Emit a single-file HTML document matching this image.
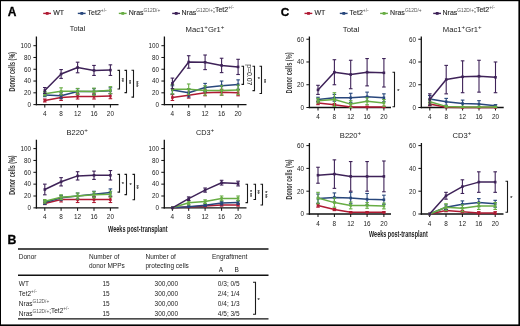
<!DOCTYPE html>
<html><head><meta charset="utf-8"><style>
html,body{margin:0;padding:0;background:#fff;}
body{width:520px;height:326px;overflow:hidden;}
svg{display:block;font-family:"Liberation Sans", sans-serif;will-change:transform;}
</style></head><body>
<svg width="520" height="326" viewBox="0 0 520 326">
<rect x="0" y="0" width="520" height="326" fill="#fff"/>
<line x1="36.4" y1="36.5" x2="36.4" y2="105.25" stroke="#111" stroke-width="1.3"/>
<line x1="35.75" y1="104.6" x2="118.5" y2="104.6" stroke="#111" stroke-width="1.3"/>
<line x1="33.4" y1="104.6" x2="36.4" y2="104.6" stroke="#111" stroke-width="1"/>
<text x="31.0" y="106.89999999999999" font-size="6.3" text-anchor="end" font-weight="normal" fill="#222" >0</text>
<line x1="33.4" y1="92.82" x2="36.4" y2="92.82" stroke="#111" stroke-width="1"/>
<text x="31.0" y="95.11999999999999" font-size="6.3" text-anchor="end" font-weight="normal" fill="#222" >20</text>
<line x1="33.4" y1="81.03999999999999" x2="36.4" y2="81.03999999999999" stroke="#111" stroke-width="1"/>
<text x="31.0" y="83.33999999999999" font-size="6.3" text-anchor="end" font-weight="normal" fill="#222" >40</text>
<line x1="33.4" y1="69.25999999999999" x2="36.4" y2="69.25999999999999" stroke="#111" stroke-width="1"/>
<text x="31.0" y="71.55999999999999" font-size="6.3" text-anchor="end" font-weight="normal" fill="#222" >60</text>
<line x1="33.4" y1="57.48" x2="36.4" y2="57.48" stroke="#111" stroke-width="1"/>
<text x="31.0" y="59.779999999999994" font-size="6.3" text-anchor="end" font-weight="normal" fill="#222" >80</text>
<line x1="33.4" y1="45.699999999999996" x2="36.4" y2="45.699999999999996" stroke="#111" stroke-width="1"/>
<text x="31.0" y="47.99999999999999" font-size="6.3" text-anchor="end" font-weight="normal" fill="#222" >100</text>
<line x1="44.8" y1="104.6" x2="44.8" y2="107.6" stroke="#111" stroke-width="1"/>
<text x="44.8" y="116.19999999999999" font-size="6.4" text-anchor="middle" font-weight="normal" fill="#222" >4</text>
<line x1="61.1" y1="104.6" x2="61.1" y2="107.6" stroke="#111" stroke-width="1"/>
<text x="61.1" y="116.19999999999999" font-size="6.4" text-anchor="middle" font-weight="normal" fill="#222" >8</text>
<line x1="77.6" y1="104.6" x2="77.6" y2="107.6" stroke="#111" stroke-width="1"/>
<text x="77.6" y="116.19999999999999" font-size="6.4" text-anchor="middle" font-weight="normal" fill="#222" >12</text>
<line x1="94.0" y1="104.6" x2="94.0" y2="107.6" stroke="#111" stroke-width="1"/>
<text x="94.0" y="116.19999999999999" font-size="6.4" text-anchor="middle" font-weight="normal" fill="#222" >16</text>
<line x1="110.4" y1="104.6" x2="110.4" y2="107.6" stroke="#111" stroke-width="1"/>
<text x="110.4" y="116.19999999999999" font-size="6.4" text-anchor="middle" font-weight="normal" fill="#222" >20</text>
<text x="77.5" y="31.4" font-size="7.3" text-anchor="middle" font-weight="normal" fill="#222" >Total</text>
<text transform="translate(15.4,71.7) rotate(-90)" font-size="8.4" font-weight="bold" text-anchor="middle" fill="#383838" textLength="39.5" lengthAdjust="spacingAndGlyphs">Donor cells (%)</text>
<line x1="44.8" y1="99.0045" x2="44.8" y2="101.9495" stroke="#b01a33" stroke-width="1.1"/>
<line x1="43.0" y1="99.0045" x2="46.599999999999994" y2="99.0045" stroke="#b01a33" stroke-width="1.1"/>
<line x1="43.0" y1="101.9495" x2="46.599999999999994" y2="101.9495" stroke="#b01a33" stroke-width="1.1"/>
<line x1="61.1" y1="94.58699999999999" x2="61.1" y2="100.47699999999999" stroke="#b01a33" stroke-width="1.1"/>
<line x1="59.300000000000004" y1="94.58699999999999" x2="62.9" y2="94.58699999999999" stroke="#b01a33" stroke-width="1.1"/>
<line x1="59.300000000000004" y1="100.47699999999999" x2="62.9" y2="100.47699999999999" stroke="#b01a33" stroke-width="1.1"/>
<line x1="77.6" y1="93.70349999999999" x2="77.6" y2="99.0045" stroke="#b01a33" stroke-width="1.1"/>
<line x1="75.8" y1="93.70349999999999" x2="79.39999999999999" y2="93.70349999999999" stroke="#b01a33" stroke-width="1.1"/>
<line x1="75.8" y1="99.0045" x2="79.39999999999999" y2="99.0045" stroke="#b01a33" stroke-width="1.1"/>
<line x1="94.0" y1="93.70349999999999" x2="94.0" y2="99.0045" stroke="#b01a33" stroke-width="1.1"/>
<line x1="92.2" y1="93.70349999999999" x2="95.8" y2="93.70349999999999" stroke="#b01a33" stroke-width="1.1"/>
<line x1="92.2" y1="99.0045" x2="95.8" y2="99.0045" stroke="#b01a33" stroke-width="1.1"/>
<line x1="110.4" y1="93.40899999999999" x2="110.4" y2="98.71" stroke="#b01a33" stroke-width="1.1"/>
<line x1="108.60000000000001" y1="93.40899999999999" x2="112.2" y2="93.40899999999999" stroke="#b01a33" stroke-width="1.1"/>
<line x1="108.60000000000001" y1="98.71" x2="112.2" y2="98.71" stroke="#b01a33" stroke-width="1.1"/>
<polyline points="44.8,100.5 61.1,97.5 77.6,96.4 94.0,96.4 110.4,96.1" fill="none" stroke="#b01a33" stroke-width="1.5" stroke-linejoin="round"/>
<rect x="43.5" y="99.2" width="2.6" height="2.6" fill="#b01a33"/>
<rect x="59.8" y="96.2" width="2.6" height="2.6" fill="#b01a33"/>
<rect x="76.3" y="95.1" width="2.6" height="2.6" fill="#b01a33"/>
<rect x="92.7" y="95.1" width="2.6" height="2.6" fill="#b01a33"/>
<rect x="109.1" y="94.8" width="2.6" height="2.6" fill="#b01a33"/>
<line x1="44.8" y1="93.11449999999999" x2="44.8" y2="96.6485" stroke="#28477c" stroke-width="1.1"/>
<line x1="43.0" y1="93.11449999999999" x2="46.599999999999994" y2="93.11449999999999" stroke="#28477c" stroke-width="1.1"/>
<line x1="43.0" y1="96.6485" x2="46.599999999999994" y2="96.6485" stroke="#28477c" stroke-width="1.1"/>
<line x1="61.1" y1="92.82" x2="61.1" y2="98.71" stroke="#28477c" stroke-width="1.1"/>
<line x1="59.300000000000004" y1="92.82" x2="62.9" y2="92.82" stroke="#28477c" stroke-width="1.1"/>
<line x1="59.300000000000004" y1="98.71" x2="62.9" y2="98.71" stroke="#28477c" stroke-width="1.1"/>
<line x1="77.6" y1="88.697" x2="77.6" y2="94.58699999999999" stroke="#28477c" stroke-width="1.1"/>
<line x1="75.8" y1="88.697" x2="79.39999999999999" y2="88.697" stroke="#28477c" stroke-width="1.1"/>
<line x1="75.8" y1="94.58699999999999" x2="79.39999999999999" y2="94.58699999999999" stroke="#28477c" stroke-width="1.1"/>
<line x1="94.0" y1="88.697" x2="94.0" y2="94.58699999999999" stroke="#28477c" stroke-width="1.1"/>
<line x1="92.2" y1="88.697" x2="95.8" y2="88.697" stroke="#28477c" stroke-width="1.1"/>
<line x1="92.2" y1="94.58699999999999" x2="95.8" y2="94.58699999999999" stroke="#28477c" stroke-width="1.1"/>
<line x1="110.4" y1="87.81349999999999" x2="110.4" y2="93.70349999999999" stroke="#28477c" stroke-width="1.1"/>
<line x1="108.60000000000001" y1="87.81349999999999" x2="112.2" y2="87.81349999999999" stroke="#28477c" stroke-width="1.1"/>
<line x1="108.60000000000001" y1="93.70349999999999" x2="112.2" y2="93.70349999999999" stroke="#28477c" stroke-width="1.1"/>
<polyline points="44.8,94.9 61.1,95.8 77.6,91.6 94.0,91.6 110.4,90.8" fill="none" stroke="#28477c" stroke-width="1.5" stroke-linejoin="round"/>
<rect x="43.5" y="93.6" width="2.6" height="2.6" fill="#28477c"/>
<rect x="59.8" y="94.5" width="2.6" height="2.6" fill="#28477c"/>
<rect x="76.3" y="90.3" width="2.6" height="2.6" fill="#28477c"/>
<rect x="92.7" y="90.3" width="2.6" height="2.6" fill="#28477c"/>
<rect x="109.1" y="89.5" width="2.6" height="2.6" fill="#28477c"/>
<line x1="44.8" y1="91.642" x2="44.8" y2="95.765" stroke="#68ad44" stroke-width="1.1"/>
<line x1="43.0" y1="91.642" x2="46.599999999999994" y2="91.642" stroke="#68ad44" stroke-width="1.1"/>
<line x1="43.0" y1="95.765" x2="46.599999999999994" y2="95.765" stroke="#68ad44" stroke-width="1.1"/>
<line x1="61.1" y1="87.81349999999999" x2="61.1" y2="94.88149999999999" stroke="#68ad44" stroke-width="1.1"/>
<line x1="59.300000000000004" y1="87.81349999999999" x2="62.9" y2="87.81349999999999" stroke="#68ad44" stroke-width="1.1"/>
<line x1="59.300000000000004" y1="94.88149999999999" x2="62.9" y2="94.88149999999999" stroke="#68ad44" stroke-width="1.1"/>
<line x1="77.6" y1="88.4025" x2="77.6" y2="94.29249999999999" stroke="#68ad44" stroke-width="1.1"/>
<line x1="75.8" y1="88.4025" x2="79.39999999999999" y2="88.4025" stroke="#68ad44" stroke-width="1.1"/>
<line x1="75.8" y1="94.29249999999999" x2="79.39999999999999" y2="94.29249999999999" stroke="#68ad44" stroke-width="1.1"/>
<line x1="94.0" y1="88.108" x2="94.0" y2="95.17599999999999" stroke="#68ad44" stroke-width="1.1"/>
<line x1="92.2" y1="88.108" x2="95.8" y2="88.108" stroke="#68ad44" stroke-width="1.1"/>
<line x1="92.2" y1="95.17599999999999" x2="95.8" y2="95.17599999999999" stroke="#68ad44" stroke-width="1.1"/>
<line x1="110.4" y1="86.6355" x2="110.4" y2="93.70349999999999" stroke="#68ad44" stroke-width="1.1"/>
<line x1="108.60000000000001" y1="86.6355" x2="112.2" y2="86.6355" stroke="#68ad44" stroke-width="1.1"/>
<line x1="108.60000000000001" y1="93.70349999999999" x2="112.2" y2="93.70349999999999" stroke="#68ad44" stroke-width="1.1"/>
<polyline points="44.8,93.7 61.1,91.3 77.6,91.3 94.0,91.6 110.4,90.2" fill="none" stroke="#68ad44" stroke-width="1.5" stroke-linejoin="round"/>
<rect x="43.5" y="92.4" width="2.6" height="2.6" fill="#68ad44"/>
<rect x="59.8" y="90.0" width="2.6" height="2.6" fill="#68ad44"/>
<rect x="76.3" y="90.0" width="2.6" height="2.6" fill="#68ad44"/>
<rect x="92.7" y="90.3" width="2.6" height="2.6" fill="#68ad44"/>
<rect x="109.1" y="88.9" width="2.6" height="2.6" fill="#68ad44"/>
<line x1="44.8" y1="87.51899999999999" x2="44.8" y2="93.40899999999999" stroke="#3e2258" stroke-width="1.1"/>
<line x1="43.0" y1="87.51899999999999" x2="46.599999999999994" y2="87.51899999999999" stroke="#3e2258" stroke-width="1.1"/>
<line x1="43.0" y1="93.40899999999999" x2="46.599999999999994" y2="93.40899999999999" stroke="#3e2258" stroke-width="1.1"/>
<line x1="61.1" y1="69.55449999999999" x2="61.1" y2="78.3895" stroke="#3e2258" stroke-width="1.1"/>
<line x1="59.300000000000004" y1="69.55449999999999" x2="62.9" y2="69.55449999999999" stroke="#3e2258" stroke-width="1.1"/>
<line x1="59.300000000000004" y1="78.3895" x2="62.9" y2="78.3895" stroke="#3e2258" stroke-width="1.1"/>
<line x1="77.6" y1="62.19199999999999" x2="77.6" y2="72.794" stroke="#3e2258" stroke-width="1.1"/>
<line x1="75.8" y1="62.19199999999999" x2="79.39999999999999" y2="62.19199999999999" stroke="#3e2258" stroke-width="1.1"/>
<line x1="75.8" y1="72.794" x2="79.39999999999999" y2="72.794" stroke="#3e2258" stroke-width="1.1"/>
<line x1="94.0" y1="65.4315" x2="94.0" y2="75.44449999999999" stroke="#3e2258" stroke-width="1.1"/>
<line x1="92.2" y1="65.4315" x2="95.8" y2="65.4315" stroke="#3e2258" stroke-width="1.1"/>
<line x1="92.2" y1="75.44449999999999" x2="95.8" y2="75.44449999999999" stroke="#3e2258" stroke-width="1.1"/>
<line x1="110.4" y1="64.8425" x2="110.4" y2="75.44449999999999" stroke="#3e2258" stroke-width="1.1"/>
<line x1="108.60000000000001" y1="64.8425" x2="112.2" y2="64.8425" stroke="#3e2258" stroke-width="1.1"/>
<line x1="108.60000000000001" y1="75.44449999999999" x2="112.2" y2="75.44449999999999" stroke="#3e2258" stroke-width="1.1"/>
<polyline points="44.8,90.5 61.1,74.0 77.6,67.5 94.0,70.4 110.4,70.1" fill="none" stroke="#3e2258" stroke-width="1.5" stroke-linejoin="round"/>
<rect x="43.5" y="89.2" width="2.6" height="2.6" fill="#3e2258"/>
<rect x="59.8" y="72.7" width="2.6" height="2.6" fill="#3e2258"/>
<rect x="76.3" y="66.2" width="2.6" height="2.6" fill="#3e2258"/>
<rect x="92.7" y="69.1" width="2.6" height="2.6" fill="#3e2258"/>
<rect x="109.1" y="68.8" width="2.6" height="2.6" fill="#3e2258"/>
<polyline points="117.5,70.4 119.5,70.4 119.5,89.0 117.5,89.0" fill="none" stroke="#1a1a1a" stroke-width="1.1"/>
<text x="122.8" y="81.85" font-size="5.4" text-anchor="middle" fill="#1a1a1a" stroke="#1a1a1a" stroke-width="0.1">*</text>
<text x="122.8" y="84.15" font-size="5.4" text-anchor="middle" fill="#1a1a1a" stroke="#1a1a1a" stroke-width="0.1">*</text>
<polyline points="124.5,70.4 126.5,70.4 126.5,92.6 124.5,92.6" fill="none" stroke="#1a1a1a" stroke-width="1.1"/>
<text x="130.1" y="83.85" font-size="5.4" text-anchor="middle" fill="#1a1a1a" stroke="#1a1a1a" stroke-width="0.1">*</text>
<text x="130.1" y="86.15" font-size="5.4" text-anchor="middle" fill="#1a1a1a" stroke="#1a1a1a" stroke-width="0.1">*</text>
<polyline points="131.5,70.3 133.5,70.3 133.5,97.1 131.5,97.1" fill="none" stroke="#1a1a1a" stroke-width="1.1"/>
<text x="137.2" y="84.70" font-size="5.4" text-anchor="middle" fill="#1a1a1a" stroke="#1a1a1a" stroke-width="0.1">*</text>
<text x="137.2" y="87.00" font-size="5.4" text-anchor="middle" fill="#1a1a1a" stroke="#1a1a1a" stroke-width="0.1">*</text>
<text x="137.2" y="89.30" font-size="5.4" text-anchor="middle" fill="#1a1a1a" stroke="#1a1a1a" stroke-width="0.1">*</text>
<line x1="164.4" y1="36.5" x2="164.4" y2="105.25" stroke="#111" stroke-width="1.3"/>
<line x1="163.75" y1="104.6" x2="246.5" y2="104.6" stroke="#111" stroke-width="1.3"/>
<line x1="161.4" y1="104.6" x2="164.4" y2="104.6" stroke="#111" stroke-width="1"/>
<text x="159.0" y="106.89999999999999" font-size="6.3" text-anchor="end" font-weight="normal" fill="#222" >0</text>
<line x1="161.4" y1="92.82" x2="164.4" y2="92.82" stroke="#111" stroke-width="1"/>
<text x="159.0" y="95.11999999999999" font-size="6.3" text-anchor="end" font-weight="normal" fill="#222" >20</text>
<line x1="161.4" y1="81.03999999999999" x2="164.4" y2="81.03999999999999" stroke="#111" stroke-width="1"/>
<text x="159.0" y="83.33999999999999" font-size="6.3" text-anchor="end" font-weight="normal" fill="#222" >40</text>
<line x1="161.4" y1="69.25999999999999" x2="164.4" y2="69.25999999999999" stroke="#111" stroke-width="1"/>
<text x="159.0" y="71.55999999999999" font-size="6.3" text-anchor="end" font-weight="normal" fill="#222" >60</text>
<line x1="161.4" y1="57.48" x2="164.4" y2="57.48" stroke="#111" stroke-width="1"/>
<text x="159.0" y="59.779999999999994" font-size="6.3" text-anchor="end" font-weight="normal" fill="#222" >80</text>
<line x1="161.4" y1="45.699999999999996" x2="164.4" y2="45.699999999999996" stroke="#111" stroke-width="1"/>
<text x="159.0" y="47.99999999999999" font-size="6.3" text-anchor="end" font-weight="normal" fill="#222" >100</text>
<line x1="172.4" y1="104.6" x2="172.4" y2="107.6" stroke="#111" stroke-width="1"/>
<text x="172.4" y="116.19999999999999" font-size="6.4" text-anchor="middle" font-weight="normal" fill="#222" >4</text>
<line x1="188.7" y1="104.6" x2="188.7" y2="107.6" stroke="#111" stroke-width="1"/>
<text x="188.7" y="116.19999999999999" font-size="6.4" text-anchor="middle" font-weight="normal" fill="#222" >8</text>
<line x1="205.1" y1="104.6" x2="205.1" y2="107.6" stroke="#111" stroke-width="1"/>
<text x="205.1" y="116.19999999999999" font-size="6.4" text-anchor="middle" font-weight="normal" fill="#222" >12</text>
<line x1="221.6" y1="104.6" x2="221.6" y2="107.6" stroke="#111" stroke-width="1"/>
<text x="221.6" y="116.19999999999999" font-size="6.4" text-anchor="middle" font-weight="normal" fill="#222" >16</text>
<line x1="238.1" y1="104.6" x2="238.1" y2="107.6" stroke="#111" stroke-width="1"/>
<text x="238.1" y="116.19999999999999" font-size="6.4" text-anchor="middle" font-weight="normal" fill="#222" >20</text>
<text x="205.0" y="31.5" font-size="7.7" text-anchor="middle" font-weight="normal" fill="#222" >Mac1<tspan font-size="6.2" dy="-2.7">+</tspan><tspan dy="2.7">Gr1</tspan><tspan font-size="6.2" dy="-2.7">+</tspan></text>
<line x1="172.4" y1="94.58699999999999" x2="172.4" y2="100.47699999999999" stroke="#b01a33" stroke-width="1.1"/>
<line x1="170.6" y1="94.58699999999999" x2="174.20000000000002" y2="94.58699999999999" stroke="#b01a33" stroke-width="1.1"/>
<line x1="170.6" y1="100.47699999999999" x2="174.20000000000002" y2="100.47699999999999" stroke="#b01a33" stroke-width="1.1"/>
<line x1="188.7" y1="92.231" x2="188.7" y2="98.121" stroke="#b01a33" stroke-width="1.1"/>
<line x1="186.89999999999998" y1="92.231" x2="190.5" y2="92.231" stroke="#b01a33" stroke-width="1.1"/>
<line x1="186.89999999999998" y1="98.121" x2="190.5" y2="98.121" stroke="#b01a33" stroke-width="1.1"/>
<line x1="205.1" y1="89.875" x2="205.1" y2="95.765" stroke="#b01a33" stroke-width="1.1"/>
<line x1="203.29999999999998" y1="89.875" x2="206.9" y2="89.875" stroke="#b01a33" stroke-width="1.1"/>
<line x1="203.29999999999998" y1="95.765" x2="206.9" y2="95.765" stroke="#b01a33" stroke-width="1.1"/>
<line x1="221.6" y1="89.286" x2="221.6" y2="95.17599999999999" stroke="#b01a33" stroke-width="1.1"/>
<line x1="219.79999999999998" y1="89.286" x2="223.4" y2="89.286" stroke="#b01a33" stroke-width="1.1"/>
<line x1="219.79999999999998" y1="95.17599999999999" x2="223.4" y2="95.17599999999999" stroke="#b01a33" stroke-width="1.1"/>
<line x1="238.1" y1="89.875" x2="238.1" y2="95.765" stroke="#b01a33" stroke-width="1.1"/>
<line x1="236.29999999999998" y1="89.875" x2="239.9" y2="89.875" stroke="#b01a33" stroke-width="1.1"/>
<line x1="236.29999999999998" y1="95.765" x2="239.9" y2="95.765" stroke="#b01a33" stroke-width="1.1"/>
<polyline points="172.4,97.5 188.7,95.2 205.1,92.8 221.6,92.2 238.1,92.8" fill="none" stroke="#b01a33" stroke-width="1.5" stroke-linejoin="round"/>
<rect x="171.1" y="96.2" width="2.6" height="2.6" fill="#b01a33"/>
<rect x="187.4" y="93.9" width="2.6" height="2.6" fill="#b01a33"/>
<rect x="203.8" y="91.5" width="2.6" height="2.6" fill="#b01a33"/>
<rect x="220.3" y="90.9" width="2.6" height="2.6" fill="#b01a33"/>
<rect x="236.8" y="91.5" width="2.6" height="2.6" fill="#b01a33"/>
<line x1="172.4" y1="85.752" x2="172.4" y2="93.99799999999999" stroke="#28477c" stroke-width="1.1"/>
<line x1="170.6" y1="85.752" x2="174.20000000000002" y2="85.752" stroke="#28477c" stroke-width="1.1"/>
<line x1="170.6" y1="93.99799999999999" x2="174.20000000000002" y2="93.99799999999999" stroke="#28477c" stroke-width="1.1"/>
<line x1="188.7" y1="88.697" x2="188.7" y2="96.943" stroke="#28477c" stroke-width="1.1"/>
<line x1="186.89999999999998" y1="88.697" x2="190.5" y2="88.697" stroke="#28477c" stroke-width="1.1"/>
<line x1="186.89999999999998" y1="96.943" x2="190.5" y2="96.943" stroke="#28477c" stroke-width="1.1"/>
<line x1="205.1" y1="83.39599999999999" x2="205.1" y2="91.642" stroke="#28477c" stroke-width="1.1"/>
<line x1="203.29999999999998" y1="83.39599999999999" x2="206.9" y2="83.39599999999999" stroke="#28477c" stroke-width="1.1"/>
<line x1="203.29999999999998" y1="91.642" x2="206.9" y2="91.642" stroke="#28477c" stroke-width="1.1"/>
<line x1="221.6" y1="81.03999999999999" x2="221.6" y2="90.464" stroke="#28477c" stroke-width="1.1"/>
<line x1="219.79999999999998" y1="81.03999999999999" x2="223.4" y2="81.03999999999999" stroke="#28477c" stroke-width="1.1"/>
<line x1="219.79999999999998" y1="90.464" x2="223.4" y2="90.464" stroke="#28477c" stroke-width="1.1"/>
<line x1="238.1" y1="79.862" x2="238.1" y2="89.286" stroke="#28477c" stroke-width="1.1"/>
<line x1="236.29999999999998" y1="79.862" x2="239.9" y2="79.862" stroke="#28477c" stroke-width="1.1"/>
<line x1="236.29999999999998" y1="89.286" x2="239.9" y2="89.286" stroke="#28477c" stroke-width="1.1"/>
<polyline points="172.4,89.9 188.7,92.8 205.1,87.5 221.6,85.8 238.1,84.6" fill="none" stroke="#28477c" stroke-width="1.5" stroke-linejoin="round"/>
<rect x="171.1" y="88.6" width="2.6" height="2.6" fill="#28477c"/>
<rect x="187.4" y="91.5" width="2.6" height="2.6" fill="#28477c"/>
<rect x="203.8" y="86.2" width="2.6" height="2.6" fill="#28477c"/>
<rect x="220.3" y="84.5" width="2.6" height="2.6" fill="#28477c"/>
<rect x="236.8" y="83.3" width="2.6" height="2.6" fill="#28477c"/>
<line x1="172.4" y1="84.574" x2="172.4" y2="93.99799999999999" stroke="#68ad44" stroke-width="1.1"/>
<line x1="170.6" y1="84.574" x2="174.20000000000002" y2="84.574" stroke="#68ad44" stroke-width="1.1"/>
<line x1="170.6" y1="93.99799999999999" x2="174.20000000000002" y2="93.99799999999999" stroke="#68ad44" stroke-width="1.1"/>
<line x1="188.7" y1="83.985" x2="188.7" y2="94.58699999999999" stroke="#68ad44" stroke-width="1.1"/>
<line x1="186.89999999999998" y1="83.985" x2="190.5" y2="83.985" stroke="#68ad44" stroke-width="1.1"/>
<line x1="186.89999999999998" y1="94.58699999999999" x2="190.5" y2="94.58699999999999" stroke="#68ad44" stroke-width="1.1"/>
<line x1="205.1" y1="85.752" x2="205.1" y2="95.17599999999999" stroke="#68ad44" stroke-width="1.1"/>
<line x1="203.29999999999998" y1="85.752" x2="206.9" y2="85.752" stroke="#68ad44" stroke-width="1.1"/>
<line x1="203.29999999999998" y1="95.17599999999999" x2="206.9" y2="95.17599999999999" stroke="#68ad44" stroke-width="1.1"/>
<line x1="221.6" y1="85.752" x2="221.6" y2="95.17599999999999" stroke="#68ad44" stroke-width="1.1"/>
<line x1="219.79999999999998" y1="85.752" x2="223.4" y2="85.752" stroke="#68ad44" stroke-width="1.1"/>
<line x1="219.79999999999998" y1="95.17599999999999" x2="223.4" y2="95.17599999999999" stroke="#68ad44" stroke-width="1.1"/>
<line x1="238.1" y1="85.163" x2="238.1" y2="94.58699999999999" stroke="#68ad44" stroke-width="1.1"/>
<line x1="236.29999999999998" y1="85.163" x2="239.9" y2="85.163" stroke="#68ad44" stroke-width="1.1"/>
<line x1="236.29999999999998" y1="94.58699999999999" x2="239.9" y2="94.58699999999999" stroke="#68ad44" stroke-width="1.1"/>
<polyline points="172.4,89.3 188.7,89.3 205.1,90.5 221.6,90.5 238.1,89.9" fill="none" stroke="#68ad44" stroke-width="1.5" stroke-linejoin="round"/>
<rect x="171.1" y="88.0" width="2.6" height="2.6" fill="#68ad44"/>
<rect x="187.4" y="88.0" width="2.6" height="2.6" fill="#68ad44"/>
<rect x="203.8" y="89.2" width="2.6" height="2.6" fill="#68ad44"/>
<rect x="220.3" y="89.2" width="2.6" height="2.6" fill="#68ad44"/>
<rect x="236.8" y="88.6" width="2.6" height="2.6" fill="#68ad44"/>
<line x1="172.4" y1="78.095" x2="172.4" y2="88.697" stroke="#3e2258" stroke-width="1.1"/>
<line x1="170.6" y1="78.095" x2="174.20000000000002" y2="78.095" stroke="#3e2258" stroke-width="1.1"/>
<line x1="170.6" y1="88.697" x2="174.20000000000002" y2="88.697" stroke="#3e2258" stroke-width="1.1"/>
<line x1="188.7" y1="55.712999999999994" x2="188.7" y2="68.1998" stroke="#3e2258" stroke-width="1.1"/>
<line x1="186.89999999999998" y1="55.712999999999994" x2="190.5" y2="55.712999999999994" stroke="#3e2258" stroke-width="1.1"/>
<line x1="186.89999999999998" y1="68.1998" x2="190.5" y2="68.1998" stroke="#3e2258" stroke-width="1.1"/>
<line x1="205.1" y1="55.00619999999999" x2="205.1" y2="69.6134" stroke="#3e2258" stroke-width="1.1"/>
<line x1="203.29999999999998" y1="55.00619999999999" x2="206.9" y2="55.00619999999999" stroke="#3e2258" stroke-width="1.1"/>
<line x1="203.29999999999998" y1="69.6134" x2="206.9" y2="69.6134" stroke="#3e2258" stroke-width="1.1"/>
<line x1="221.6" y1="58.24569999999999" x2="221.6" y2="72.6173" stroke="#3e2258" stroke-width="1.1"/>
<line x1="219.79999999999998" y1="58.24569999999999" x2="223.4" y2="58.24569999999999" stroke="#3e2258" stroke-width="1.1"/>
<line x1="219.79999999999998" y1="72.6173" x2="223.4" y2="72.6173" stroke="#3e2258" stroke-width="1.1"/>
<line x1="238.1" y1="59.305899999999994" x2="238.1" y2="74.5021" stroke="#3e2258" stroke-width="1.1"/>
<line x1="236.29999999999998" y1="59.305899999999994" x2="239.9" y2="59.305899999999994" stroke="#3e2258" stroke-width="1.1"/>
<line x1="236.29999999999998" y1="74.5021" x2="239.9" y2="74.5021" stroke="#3e2258" stroke-width="1.1"/>
<polyline points="172.4,83.4 188.7,62.0 205.1,62.3 221.6,65.4 238.1,66.9" fill="none" stroke="#3e2258" stroke-width="1.5" stroke-linejoin="round"/>
<rect x="171.1" y="82.1" width="2.6" height="2.6" fill="#3e2258"/>
<rect x="187.4" y="60.7" width="2.6" height="2.6" fill="#3e2258"/>
<rect x="203.8" y="61.0" width="2.6" height="2.6" fill="#3e2258"/>
<rect x="220.3" y="64.1" width="2.6" height="2.6" fill="#3e2258"/>
<rect x="236.8" y="65.6" width="2.6" height="2.6" fill="#3e2258"/>
<polyline points="241.5,66.2 243.5,66.2 243.5,84.4 241.5,84.4" fill="none" stroke="#1a1a1a" stroke-width="1.1"/>
<text transform="translate(246.6,74.8) rotate(90)" font-size="6.9" text-anchor="middle" fill="#222">p=0.07</text>
<polyline points="252.5,66.2 254.5,66.2 254.5,90.6 252.5,90.6" fill="none" stroke="#1a1a1a" stroke-width="1.1"/>
<text x="258.7" y="81.20" font-size="5.4" text-anchor="middle" fill="#1a1a1a" stroke="#1a1a1a" stroke-width="0.1">*</text>
<polyline points="259.5,66.2 261.5,66.2 261.5,93.5 259.5,93.5" fill="none" stroke="#1a1a1a" stroke-width="1.1"/>
<text x="265.0" y="83.15" font-size="5.4" text-anchor="middle" fill="#1a1a1a" stroke="#1a1a1a" stroke-width="0.1">*</text>
<text x="265.0" y="85.45" font-size="5.4" text-anchor="middle" fill="#1a1a1a" stroke="#1a1a1a" stroke-width="0.1">*</text>
<line x1="36.4" y1="139.7" x2="36.4" y2="208.5" stroke="#111" stroke-width="1.3"/>
<line x1="35.75" y1="207.85" x2="118.5" y2="207.85" stroke="#111" stroke-width="1.3"/>
<line x1="33.4" y1="207.85" x2="36.4" y2="207.85" stroke="#111" stroke-width="1"/>
<text x="31.0" y="210.15" font-size="6.3" text-anchor="end" font-weight="normal" fill="#222" >0</text>
<line x1="33.4" y1="196.0" x2="36.4" y2="196.0" stroke="#111" stroke-width="1"/>
<text x="31.0" y="198.3" font-size="6.3" text-anchor="end" font-weight="normal" fill="#222" >20</text>
<line x1="33.4" y1="184.14999999999998" x2="36.4" y2="184.14999999999998" stroke="#111" stroke-width="1"/>
<text x="31.0" y="186.45" font-size="6.3" text-anchor="end" font-weight="normal" fill="#222" >40</text>
<line x1="33.4" y1="172.29999999999998" x2="36.4" y2="172.29999999999998" stroke="#111" stroke-width="1"/>
<text x="31.0" y="174.6" font-size="6.3" text-anchor="end" font-weight="normal" fill="#222" >60</text>
<line x1="33.4" y1="160.45" x2="36.4" y2="160.45" stroke="#111" stroke-width="1"/>
<text x="31.0" y="162.75" font-size="6.3" text-anchor="end" font-weight="normal" fill="#222" >80</text>
<line x1="33.4" y1="148.6" x2="36.4" y2="148.6" stroke="#111" stroke-width="1"/>
<text x="31.0" y="150.9" font-size="6.3" text-anchor="end" font-weight="normal" fill="#222" >100</text>
<line x1="44.8" y1="207.85" x2="44.8" y2="210.85" stroke="#111" stroke-width="1"/>
<text x="44.8" y="219.45" font-size="6.4" text-anchor="middle" font-weight="normal" fill="#222" >4</text>
<line x1="61.1" y1="207.85" x2="61.1" y2="210.85" stroke="#111" stroke-width="1"/>
<text x="61.1" y="219.45" font-size="6.4" text-anchor="middle" font-weight="normal" fill="#222" >8</text>
<line x1="77.6" y1="207.85" x2="77.6" y2="210.85" stroke="#111" stroke-width="1"/>
<text x="77.6" y="219.45" font-size="6.4" text-anchor="middle" font-weight="normal" fill="#222" >12</text>
<line x1="94.0" y1="207.85" x2="94.0" y2="210.85" stroke="#111" stroke-width="1"/>
<text x="94.0" y="219.45" font-size="6.4" text-anchor="middle" font-weight="normal" fill="#222" >16</text>
<line x1="110.4" y1="207.85" x2="110.4" y2="210.85" stroke="#111" stroke-width="1"/>
<text x="110.4" y="219.45" font-size="6.4" text-anchor="middle" font-weight="normal" fill="#222" >20</text>
<text x="77.2" y="134.8" font-size="7.5" text-anchor="middle" font-weight="normal" fill="#222" >B220<tspan font-size="6.2" dy="-2.7">+</tspan></text>
<text transform="translate(15.4,175.1) rotate(-90)" font-size="8.4" font-weight="bold" text-anchor="middle" fill="#383838" textLength="39.5" lengthAdjust="spacingAndGlyphs">Donor cells (%)</text>
<line x1="44.8" y1="202.22125" x2="44.8" y2="204.59125" stroke="#b01a33" stroke-width="1.1"/>
<line x1="43.0" y1="202.22125" x2="46.599999999999994" y2="202.22125" stroke="#b01a33" stroke-width="1.1"/>
<line x1="43.0" y1="204.59125" x2="46.599999999999994" y2="204.59125" stroke="#b01a33" stroke-width="1.1"/>
<line x1="61.1" y1="197.185" x2="61.1" y2="201.92499999999998" stroke="#b01a33" stroke-width="1.1"/>
<line x1="59.300000000000004" y1="197.185" x2="62.9" y2="197.185" stroke="#b01a33" stroke-width="1.1"/>
<line x1="59.300000000000004" y1="201.92499999999998" x2="62.9" y2="201.92499999999998" stroke="#b01a33" stroke-width="1.1"/>
<line x1="77.6" y1="196.5925" x2="77.6" y2="202.51749999999998" stroke="#b01a33" stroke-width="1.1"/>
<line x1="75.8" y1="196.5925" x2="79.39999999999999" y2="196.5925" stroke="#b01a33" stroke-width="1.1"/>
<line x1="75.8" y1="202.51749999999998" x2="79.39999999999999" y2="202.51749999999998" stroke="#b01a33" stroke-width="1.1"/>
<line x1="94.0" y1="196.5925" x2="94.0" y2="202.51749999999998" stroke="#b01a33" stroke-width="1.1"/>
<line x1="92.2" y1="196.5925" x2="95.8" y2="196.5925" stroke="#b01a33" stroke-width="1.1"/>
<line x1="92.2" y1="202.51749999999998" x2="95.8" y2="202.51749999999998" stroke="#b01a33" stroke-width="1.1"/>
<line x1="110.4" y1="196.5925" x2="110.4" y2="202.51749999999998" stroke="#b01a33" stroke-width="1.1"/>
<line x1="108.60000000000001" y1="196.5925" x2="112.2" y2="196.5925" stroke="#b01a33" stroke-width="1.1"/>
<line x1="108.60000000000001" y1="202.51749999999998" x2="112.2" y2="202.51749999999998" stroke="#b01a33" stroke-width="1.1"/>
<polyline points="44.8,203.4 61.1,199.6 77.6,199.6 94.0,199.6 110.4,199.6" fill="none" stroke="#b01a33" stroke-width="1.5" stroke-linejoin="round"/>
<rect x="43.5" y="202.1" width="2.6" height="2.6" fill="#b01a33"/>
<rect x="59.8" y="198.3" width="2.6" height="2.6" fill="#b01a33"/>
<rect x="76.3" y="198.3" width="2.6" height="2.6" fill="#b01a33"/>
<rect x="92.7" y="198.3" width="2.6" height="2.6" fill="#b01a33"/>
<rect x="109.1" y="198.3" width="2.6" height="2.6" fill="#b01a33"/>
<line x1="44.8" y1="200.73999999999998" x2="44.8" y2="204.295" stroke="#28477c" stroke-width="1.1"/>
<line x1="43.0" y1="200.73999999999998" x2="46.599999999999994" y2="200.73999999999998" stroke="#28477c" stroke-width="1.1"/>
<line x1="43.0" y1="204.295" x2="46.599999999999994" y2="204.295" stroke="#28477c" stroke-width="1.1"/>
<line x1="61.1" y1="195.4075" x2="61.1" y2="200.14749999999998" stroke="#28477c" stroke-width="1.1"/>
<line x1="59.300000000000004" y1="195.4075" x2="62.9" y2="195.4075" stroke="#28477c" stroke-width="1.1"/>
<line x1="59.300000000000004" y1="200.14749999999998" x2="62.9" y2="200.14749999999998" stroke="#28477c" stroke-width="1.1"/>
<line x1="77.6" y1="193.0375" x2="77.6" y2="198.9625" stroke="#28477c" stroke-width="1.1"/>
<line x1="75.8" y1="193.0375" x2="79.39999999999999" y2="193.0375" stroke="#28477c" stroke-width="1.1"/>
<line x1="75.8" y1="198.9625" x2="79.39999999999999" y2="198.9625" stroke="#28477c" stroke-width="1.1"/>
<line x1="94.0" y1="191.26" x2="94.0" y2="197.185" stroke="#28477c" stroke-width="1.1"/>
<line x1="92.2" y1="191.26" x2="95.8" y2="191.26" stroke="#28477c" stroke-width="1.1"/>
<line x1="92.2" y1="197.185" x2="95.8" y2="197.185" stroke="#28477c" stroke-width="1.1"/>
<line x1="110.4" y1="188.89" x2="110.4" y2="196.0" stroke="#28477c" stroke-width="1.1"/>
<line x1="108.60000000000001" y1="188.89" x2="112.2" y2="188.89" stroke="#28477c" stroke-width="1.1"/>
<line x1="108.60000000000001" y1="196.0" x2="112.2" y2="196.0" stroke="#28477c" stroke-width="1.1"/>
<polyline points="44.8,202.5 61.1,197.8 77.6,196.0 94.0,194.2 110.4,192.4" fill="none" stroke="#28477c" stroke-width="1.5" stroke-linejoin="round"/>
<rect x="43.5" y="201.2" width="2.6" height="2.6" fill="#28477c"/>
<rect x="59.8" y="196.5" width="2.6" height="2.6" fill="#28477c"/>
<rect x="76.3" y="194.7" width="2.6" height="2.6" fill="#28477c"/>
<rect x="92.7" y="192.9" width="2.6" height="2.6" fill="#28477c"/>
<rect x="109.1" y="191.1" width="2.6" height="2.6" fill="#28477c"/>
<line x1="44.8" y1="199.555" x2="44.8" y2="203.10999999999999" stroke="#68ad44" stroke-width="1.1"/>
<line x1="43.0" y1="199.555" x2="46.599999999999994" y2="199.555" stroke="#68ad44" stroke-width="1.1"/>
<line x1="43.0" y1="203.10999999999999" x2="46.599999999999994" y2="203.10999999999999" stroke="#68ad44" stroke-width="1.1"/>
<line x1="61.1" y1="194.815" x2="61.1" y2="199.555" stroke="#68ad44" stroke-width="1.1"/>
<line x1="59.300000000000004" y1="194.815" x2="62.9" y2="194.815" stroke="#68ad44" stroke-width="1.1"/>
<line x1="59.300000000000004" y1="199.555" x2="62.9" y2="199.555" stroke="#68ad44" stroke-width="1.1"/>
<line x1="77.6" y1="193.0375" x2="77.6" y2="198.9625" stroke="#68ad44" stroke-width="1.1"/>
<line x1="75.8" y1="193.0375" x2="79.39999999999999" y2="193.0375" stroke="#68ad44" stroke-width="1.1"/>
<line x1="75.8" y1="198.9625" x2="79.39999999999999" y2="198.9625" stroke="#68ad44" stroke-width="1.1"/>
<line x1="94.0" y1="191.8525" x2="94.0" y2="197.7775" stroke="#68ad44" stroke-width="1.1"/>
<line x1="92.2" y1="191.8525" x2="95.8" y2="191.8525" stroke="#68ad44" stroke-width="1.1"/>
<line x1="92.2" y1="197.7775" x2="95.8" y2="197.7775" stroke="#68ad44" stroke-width="1.1"/>
<line x1="110.4" y1="191.26" x2="110.4" y2="197.185" stroke="#68ad44" stroke-width="1.1"/>
<line x1="108.60000000000001" y1="191.26" x2="112.2" y2="191.26" stroke="#68ad44" stroke-width="1.1"/>
<line x1="108.60000000000001" y1="197.185" x2="112.2" y2="197.185" stroke="#68ad44" stroke-width="1.1"/>
<polyline points="44.8,201.3 61.1,197.2 77.6,196.0 94.0,194.8 110.4,194.2" fill="none" stroke="#68ad44" stroke-width="1.5" stroke-linejoin="round"/>
<rect x="43.5" y="200.0" width="2.6" height="2.6" fill="#68ad44"/>
<rect x="59.8" y="195.9" width="2.6" height="2.6" fill="#68ad44"/>
<rect x="76.3" y="194.7" width="2.6" height="2.6" fill="#68ad44"/>
<rect x="92.7" y="193.5" width="2.6" height="2.6" fill="#68ad44"/>
<rect x="109.1" y="192.9" width="2.6" height="2.6" fill="#68ad44"/>
<line x1="44.8" y1="184.14999999999998" x2="44.8" y2="194.815" stroke="#3e2258" stroke-width="1.1"/>
<line x1="43.0" y1="184.14999999999998" x2="46.599999999999994" y2="184.14999999999998" stroke="#3e2258" stroke-width="1.1"/>
<line x1="43.0" y1="194.815" x2="46.599999999999994" y2="194.815" stroke="#3e2258" stroke-width="1.1"/>
<line x1="61.1" y1="177.6325" x2="61.1" y2="185.9275" stroke="#3e2258" stroke-width="1.1"/>
<line x1="59.300000000000004" y1="177.6325" x2="62.9" y2="177.6325" stroke="#3e2258" stroke-width="1.1"/>
<line x1="59.300000000000004" y1="185.9275" x2="62.9" y2="185.9275" stroke="#3e2258" stroke-width="1.1"/>
<line x1="77.6" y1="171.70749999999998" x2="77.6" y2="180.0025" stroke="#3e2258" stroke-width="1.1"/>
<line x1="75.8" y1="171.70749999999998" x2="79.39999999999999" y2="171.70749999999998" stroke="#3e2258" stroke-width="1.1"/>
<line x1="75.8" y1="180.0025" x2="79.39999999999999" y2="180.0025" stroke="#3e2258" stroke-width="1.1"/>
<line x1="94.0" y1="171.115" x2="94.0" y2="179.41" stroke="#3e2258" stroke-width="1.1"/>
<line x1="92.2" y1="171.115" x2="95.8" y2="171.115" stroke="#3e2258" stroke-width="1.1"/>
<line x1="92.2" y1="179.41" x2="95.8" y2="179.41" stroke="#3e2258" stroke-width="1.1"/>
<line x1="110.4" y1="170.52249999999998" x2="110.4" y2="180.0025" stroke="#3e2258" stroke-width="1.1"/>
<line x1="108.60000000000001" y1="170.52249999999998" x2="112.2" y2="170.52249999999998" stroke="#3e2258" stroke-width="1.1"/>
<line x1="108.60000000000001" y1="180.0025" x2="112.2" y2="180.0025" stroke="#3e2258" stroke-width="1.1"/>
<polyline points="44.8,189.5 61.1,181.8 77.6,175.9 94.0,175.3 110.4,175.3" fill="none" stroke="#3e2258" stroke-width="1.5" stroke-linejoin="round"/>
<rect x="43.5" y="188.2" width="2.6" height="2.6" fill="#3e2258"/>
<rect x="59.8" y="180.5" width="2.6" height="2.6" fill="#3e2258"/>
<rect x="76.3" y="174.6" width="2.6" height="2.6" fill="#3e2258"/>
<rect x="92.7" y="174.0" width="2.6" height="2.6" fill="#3e2258"/>
<rect x="109.1" y="174.0" width="2.6" height="2.6" fill="#3e2258"/>
<polyline points="117.5,174.4 119.5,174.4 119.5,192.1 117.5,192.1" fill="none" stroke="#1a1a1a" stroke-width="1.1"/>
<text x="122.9" y="185.90" font-size="5.4" text-anchor="middle" fill="#1a1a1a" stroke="#1a1a1a" stroke-width="0.1">*</text>
<polyline points="124.5,174.4 126.5,174.4 126.5,194.6 124.5,194.6" fill="none" stroke="#1a1a1a" stroke-width="1.1"/>
<text x="130.5" y="186.70" font-size="5.4" text-anchor="middle" fill="#1a1a1a" stroke="#1a1a1a" stroke-width="0.1">*</text>
<polyline points="132.5,174.4 134.5,174.4 134.5,199.7 132.5,199.7" fill="none" stroke="#1a1a1a" stroke-width="1.1"/>
<text x="137.6" y="188.95" font-size="5.4" text-anchor="middle" fill="#1a1a1a" stroke="#1a1a1a" stroke-width="0.1">*</text>
<text x="137.6" y="191.25" font-size="5.4" text-anchor="middle" fill="#1a1a1a" stroke="#1a1a1a" stroke-width="0.1">*</text>
<line x1="164.3" y1="139.7" x2="164.3" y2="208.5" stroke="#111" stroke-width="1.3"/>
<line x1="163.65" y1="207.85" x2="246.5" y2="207.85" stroke="#111" stroke-width="1.3"/>
<line x1="161.3" y1="207.85" x2="164.3" y2="207.85" stroke="#111" stroke-width="1"/>
<text x="158.9" y="210.15" font-size="6.3" text-anchor="end" font-weight="normal" fill="#222" >0</text>
<line x1="161.3" y1="196.0" x2="164.3" y2="196.0" stroke="#111" stroke-width="1"/>
<text x="158.9" y="198.3" font-size="6.3" text-anchor="end" font-weight="normal" fill="#222" >20</text>
<line x1="161.3" y1="184.14999999999998" x2="164.3" y2="184.14999999999998" stroke="#111" stroke-width="1"/>
<text x="158.9" y="186.45" font-size="6.3" text-anchor="end" font-weight="normal" fill="#222" >40</text>
<line x1="161.3" y1="172.29999999999998" x2="164.3" y2="172.29999999999998" stroke="#111" stroke-width="1"/>
<text x="158.9" y="174.6" font-size="6.3" text-anchor="end" font-weight="normal" fill="#222" >60</text>
<line x1="161.3" y1="160.45" x2="164.3" y2="160.45" stroke="#111" stroke-width="1"/>
<text x="158.9" y="162.75" font-size="6.3" text-anchor="end" font-weight="normal" fill="#222" >80</text>
<line x1="161.3" y1="148.6" x2="164.3" y2="148.6" stroke="#111" stroke-width="1"/>
<text x="158.9" y="150.9" font-size="6.3" text-anchor="end" font-weight="normal" fill="#222" >100</text>
<line x1="172.4" y1="207.85" x2="172.4" y2="210.85" stroke="#111" stroke-width="1"/>
<text x="172.4" y="219.45" font-size="6.4" text-anchor="middle" font-weight="normal" fill="#222" >4</text>
<line x1="188.7" y1="207.85" x2="188.7" y2="210.85" stroke="#111" stroke-width="1"/>
<text x="188.7" y="219.45" font-size="6.4" text-anchor="middle" font-weight="normal" fill="#222" >8</text>
<line x1="205.1" y1="207.85" x2="205.1" y2="210.85" stroke="#111" stroke-width="1"/>
<text x="205.1" y="219.45" font-size="6.4" text-anchor="middle" font-weight="normal" fill="#222" >12</text>
<line x1="221.6" y1="207.85" x2="221.6" y2="210.85" stroke="#111" stroke-width="1"/>
<text x="221.6" y="219.45" font-size="6.4" text-anchor="middle" font-weight="normal" fill="#222" >16</text>
<line x1="238.1" y1="207.85" x2="238.1" y2="210.85" stroke="#111" stroke-width="1"/>
<text x="238.1" y="219.45" font-size="6.4" text-anchor="middle" font-weight="normal" fill="#222" >20</text>
<text x="205.0" y="134.9" font-size="7.3" text-anchor="middle" font-weight="normal" fill="#222" >CD3<tspan font-size="6.2" dy="-2.7">+</tspan></text>
<line x1="188.7" y1="206.36875" x2="188.7" y2="207.55375" stroke="#b01a33" stroke-width="1.1"/>
<line x1="186.89999999999998" y1="206.36875" x2="190.5" y2="206.36875" stroke="#b01a33" stroke-width="1.1"/>
<line x1="186.89999999999998" y1="207.55375" x2="190.5" y2="207.55375" stroke="#b01a33" stroke-width="1.1"/>
<line x1="205.1" y1="205.18375" x2="205.1" y2="206.96125" stroke="#b01a33" stroke-width="1.1"/>
<line x1="203.29999999999998" y1="205.18375" x2="206.9" y2="205.18375" stroke="#b01a33" stroke-width="1.1"/>
<line x1="203.29999999999998" y1="206.96125" x2="206.9" y2="206.96125" stroke="#b01a33" stroke-width="1.1"/>
<line x1="221.6" y1="203.7025" x2="221.6" y2="206.0725" stroke="#b01a33" stroke-width="1.1"/>
<line x1="219.79999999999998" y1="203.7025" x2="223.4" y2="203.7025" stroke="#b01a33" stroke-width="1.1"/>
<line x1="219.79999999999998" y1="206.0725" x2="223.4" y2="206.0725" stroke="#b01a33" stroke-width="1.1"/>
<line x1="238.1" y1="203.7025" x2="238.1" y2="206.0725" stroke="#b01a33" stroke-width="1.1"/>
<line x1="236.29999999999998" y1="203.7025" x2="239.9" y2="203.7025" stroke="#b01a33" stroke-width="1.1"/>
<line x1="236.29999999999998" y1="206.0725" x2="239.9" y2="206.0725" stroke="#b01a33" stroke-width="1.1"/>
<polyline points="172.4,207.8 188.7,207.0 205.1,206.1 221.6,204.9 238.1,204.9" fill="none" stroke="#b01a33" stroke-width="1.5" stroke-linejoin="round"/>
<rect x="171.1" y="206.5" width="2.6" height="2.6" fill="#b01a33"/>
<rect x="187.4" y="205.7" width="2.6" height="2.6" fill="#b01a33"/>
<rect x="203.8" y="204.8" width="2.6" height="2.6" fill="#b01a33"/>
<rect x="220.3" y="203.6" width="2.6" height="2.6" fill="#b01a33"/>
<rect x="236.8" y="203.6" width="2.6" height="2.6" fill="#b01a33"/>
<line x1="188.7" y1="206.0725" x2="188.7" y2="207.2575" stroke="#28477c" stroke-width="1.1"/>
<line x1="186.89999999999998" y1="206.0725" x2="190.5" y2="206.0725" stroke="#28477c" stroke-width="1.1"/>
<line x1="186.89999999999998" y1="207.2575" x2="190.5" y2="207.2575" stroke="#28477c" stroke-width="1.1"/>
<line x1="205.1" y1="203.99875" x2="205.1" y2="206.36875" stroke="#28477c" stroke-width="1.1"/>
<line x1="203.29999999999998" y1="203.99875" x2="206.9" y2="203.99875" stroke="#28477c" stroke-width="1.1"/>
<line x1="203.29999999999998" y1="206.36875" x2="206.9" y2="206.36875" stroke="#28477c" stroke-width="1.1"/>
<line x1="221.6" y1="201.33249999999998" x2="221.6" y2="204.8875" stroke="#28477c" stroke-width="1.1"/>
<line x1="219.79999999999998" y1="201.33249999999998" x2="223.4" y2="201.33249999999998" stroke="#28477c" stroke-width="1.1"/>
<line x1="219.79999999999998" y1="204.8875" x2="223.4" y2="204.8875" stroke="#28477c" stroke-width="1.1"/>
<line x1="238.1" y1="200.73999999999998" x2="238.1" y2="204.295" stroke="#28477c" stroke-width="1.1"/>
<line x1="236.29999999999998" y1="200.73999999999998" x2="239.9" y2="200.73999999999998" stroke="#28477c" stroke-width="1.1"/>
<line x1="236.29999999999998" y1="204.295" x2="239.9" y2="204.295" stroke="#28477c" stroke-width="1.1"/>
<polyline points="172.4,207.8 188.7,206.7 205.1,205.2 221.6,203.1 238.1,202.5" fill="none" stroke="#28477c" stroke-width="1.5" stroke-linejoin="round"/>
<rect x="171.1" y="206.5" width="2.6" height="2.6" fill="#28477c"/>
<rect x="187.4" y="205.4" width="2.6" height="2.6" fill="#28477c"/>
<rect x="203.8" y="203.9" width="2.6" height="2.6" fill="#28477c"/>
<rect x="220.3" y="201.8" width="2.6" height="2.6" fill="#28477c"/>
<rect x="236.8" y="201.2" width="2.6" height="2.6" fill="#28477c"/>
<line x1="188.7" y1="201.03625" x2="188.7" y2="204.59125" stroke="#68ad44" stroke-width="1.1"/>
<line x1="186.89999999999998" y1="201.03625" x2="190.5" y2="201.03625" stroke="#68ad44" stroke-width="1.1"/>
<line x1="186.89999999999998" y1="204.59125" x2="190.5" y2="204.59125" stroke="#68ad44" stroke-width="1.1"/>
<line x1="205.1" y1="199.85125" x2="205.1" y2="203.40625" stroke="#68ad44" stroke-width="1.1"/>
<line x1="203.29999999999998" y1="199.85125" x2="206.9" y2="199.85125" stroke="#68ad44" stroke-width="1.1"/>
<line x1="203.29999999999998" y1="203.40625" x2="206.9" y2="203.40625" stroke="#68ad44" stroke-width="1.1"/>
<line x1="221.6" y1="196.0" x2="221.6" y2="200.73999999999998" stroke="#68ad44" stroke-width="1.1"/>
<line x1="219.79999999999998" y1="196.0" x2="223.4" y2="196.0" stroke="#68ad44" stroke-width="1.1"/>
<line x1="219.79999999999998" y1="200.73999999999998" x2="223.4" y2="200.73999999999998" stroke="#68ad44" stroke-width="1.1"/>
<line x1="238.1" y1="196.0" x2="238.1" y2="200.73999999999998" stroke="#68ad44" stroke-width="1.1"/>
<line x1="236.29999999999998" y1="196.0" x2="239.9" y2="196.0" stroke="#68ad44" stroke-width="1.1"/>
<line x1="236.29999999999998" y1="200.73999999999998" x2="239.9" y2="200.73999999999998" stroke="#68ad44" stroke-width="1.1"/>
<polyline points="172.4,207.8 188.7,202.8 205.1,201.6 221.6,198.4 238.1,198.4" fill="none" stroke="#68ad44" stroke-width="1.5" stroke-linejoin="round"/>
<rect x="171.1" y="206.5" width="2.6" height="2.6" fill="#68ad44"/>
<rect x="187.4" y="201.5" width="2.6" height="2.6" fill="#68ad44"/>
<rect x="203.8" y="200.3" width="2.6" height="2.6" fill="#68ad44"/>
<rect x="220.3" y="197.1" width="2.6" height="2.6" fill="#68ad44"/>
<rect x="236.8" y="197.1" width="2.6" height="2.6" fill="#68ad44"/>
<line x1="188.7" y1="196.88875" x2="188.7" y2="200.44375" stroke="#3e2258" stroke-width="1.1"/>
<line x1="186.89999999999998" y1="196.88875" x2="190.5" y2="196.88875" stroke="#3e2258" stroke-width="1.1"/>
<line x1="186.89999999999998" y1="200.44375" x2="190.5" y2="200.44375" stroke="#3e2258" stroke-width="1.1"/>
<line x1="205.1" y1="188.00125" x2="205.1" y2="192.14875" stroke="#3e2258" stroke-width="1.1"/>
<line x1="203.29999999999998" y1="188.00125" x2="206.9" y2="188.00125" stroke="#3e2258" stroke-width="1.1"/>
<line x1="203.29999999999998" y1="192.14875" x2="206.9" y2="192.14875" stroke="#3e2258" stroke-width="1.1"/>
<line x1="221.6" y1="180.29874999999998" x2="221.6" y2="185.03875" stroke="#3e2258" stroke-width="1.1"/>
<line x1="219.79999999999998" y1="180.29874999999998" x2="223.4" y2="180.29874999999998" stroke="#3e2258" stroke-width="1.1"/>
<line x1="219.79999999999998" y1="185.03875" x2="223.4" y2="185.03875" stroke="#3e2258" stroke-width="1.1"/>
<line x1="238.1" y1="181.1875" x2="238.1" y2="185.9275" stroke="#3e2258" stroke-width="1.1"/>
<line x1="236.29999999999998" y1="181.1875" x2="239.9" y2="181.1875" stroke="#3e2258" stroke-width="1.1"/>
<line x1="236.29999999999998" y1="185.9275" x2="239.9" y2="185.9275" stroke="#3e2258" stroke-width="1.1"/>
<polyline points="172.4,207.8 188.7,198.7 205.1,190.1 221.6,182.7 238.1,183.6" fill="none" stroke="#3e2258" stroke-width="1.5" stroke-linejoin="round"/>
<rect x="171.1" y="206.5" width="2.6" height="2.6" fill="#3e2258"/>
<rect x="187.4" y="197.4" width="2.6" height="2.6" fill="#3e2258"/>
<rect x="203.8" y="188.8" width="2.6" height="2.6" fill="#3e2258"/>
<rect x="220.3" y="181.4" width="2.6" height="2.6" fill="#3e2258"/>
<rect x="236.8" y="182.3" width="2.6" height="2.6" fill="#3e2258"/>
<polyline points="245.5,184.2 247.5,184.2 247.5,202.6 245.5,202.6" fill="none" stroke="#1a1a1a" stroke-width="1.1"/>
<text x="251.1" y="194.30" font-size="5.4" text-anchor="middle" fill="#1a1a1a" stroke="#1a1a1a" stroke-width="0.1">*</text>
<text x="251.1" y="196.60" font-size="5.4" text-anchor="middle" fill="#1a1a1a" stroke="#1a1a1a" stroke-width="0.1">*</text>
<text x="251.1" y="198.90" font-size="5.4" text-anchor="middle" fill="#1a1a1a" stroke="#1a1a1a" stroke-width="0.1">*</text>
<polyline points="253.5,184.2 255.5,184.2 255.5,199.5 253.5,199.5" fill="none" stroke="#1a1a1a" stroke-width="1.1"/>
<text x="258.5" y="193.95" font-size="5.4" text-anchor="middle" fill="#1a1a1a" stroke="#1a1a1a" stroke-width="0.1">*</text>
<text x="258.5" y="196.25" font-size="5.4" text-anchor="middle" fill="#1a1a1a" stroke="#1a1a1a" stroke-width="0.1">*</text>
<polyline points="260.5,184.2 262.5,184.2 262.5,205 260.5,205" fill="none" stroke="#1a1a1a" stroke-width="1.1"/>
<text x="266.2" y="195.40" font-size="5.4" text-anchor="middle" fill="#1a1a1a" stroke="#1a1a1a" stroke-width="0.1">*</text>
<text x="266.2" y="197.70" font-size="5.4" text-anchor="middle" fill="#1a1a1a" stroke="#1a1a1a" stroke-width="0.1">*</text>
<text x="266.2" y="200.00" font-size="5.4" text-anchor="middle" fill="#1a1a1a" stroke="#1a1a1a" stroke-width="0.1">*</text>
<text x="108" y="231.5" font-size="8.5" text-anchor="start" font-weight="bold" fill="#222" textLength="59.5" lengthAdjust="spacingAndGlyphs" >Weeks post-transplant</text>
<line x1="309.4" y1="36.5" x2="309.4" y2="108.15" stroke="#111" stroke-width="1.3"/>
<line x1="308.75" y1="107.5" x2="391" y2="107.5" stroke="#111" stroke-width="1.3"/>
<line x1="306.4" y1="107.5" x2="309.4" y2="107.5" stroke="#111" stroke-width="1"/>
<text x="304.0" y="109.8" font-size="6.3" text-anchor="end" font-weight="normal" fill="#222" >0</text>
<line x1="306.4" y1="84.74000000000001" x2="309.4" y2="84.74000000000001" stroke="#111" stroke-width="1"/>
<text x="304.0" y="87.04" font-size="6.3" text-anchor="end" font-weight="normal" fill="#222" >20</text>
<line x1="306.4" y1="61.980000000000004" x2="309.4" y2="61.980000000000004" stroke="#111" stroke-width="1"/>
<text x="304.0" y="64.28" font-size="6.3" text-anchor="end" font-weight="normal" fill="#222" >40</text>
<line x1="306.4" y1="39.22" x2="309.4" y2="39.22" stroke="#111" stroke-width="1"/>
<text x="304.0" y="41.519999999999996" font-size="6.3" text-anchor="end" font-weight="normal" fill="#222" >60</text>
<line x1="318.0" y1="107.5" x2="318.0" y2="110.5" stroke="#111" stroke-width="1"/>
<text x="318.0" y="119.1" font-size="6.4" text-anchor="middle" font-weight="normal" fill="#222" >4</text>
<line x1="334.4" y1="107.5" x2="334.4" y2="110.5" stroke="#111" stroke-width="1"/>
<text x="334.4" y="119.1" font-size="6.4" text-anchor="middle" font-weight="normal" fill="#222" >8</text>
<line x1="350.7" y1="107.5" x2="350.7" y2="110.5" stroke="#111" stroke-width="1"/>
<text x="350.7" y="119.1" font-size="6.4" text-anchor="middle" font-weight="normal" fill="#222" >12</text>
<line x1="367.1" y1="107.5" x2="367.1" y2="110.5" stroke="#111" stroke-width="1"/>
<text x="367.1" y="119.1" font-size="6.4" text-anchor="middle" font-weight="normal" fill="#222" >16</text>
<line x1="383.9" y1="107.5" x2="383.9" y2="110.5" stroke="#111" stroke-width="1"/>
<text x="383.9" y="119.1" font-size="6.4" text-anchor="middle" font-weight="normal" fill="#222" >20</text>
<text x="351" y="31.8" font-size="7.8" text-anchor="middle" font-weight="normal" fill="#222" >Total</text>
<text transform="translate(291.5,72.9) rotate(-90)" font-size="8.4" font-weight="bold" text-anchor="middle" fill="#383838" textLength="41" lengthAdjust="spacingAndGlyphs">Donor cells (%)</text>
<line x1="318.0" y1="101.241" x2="318.0" y2="104.655" stroke="#b01a33" stroke-width="1.1"/>
<line x1="316.2" y1="101.241" x2="319.8" y2="101.241" stroke="#b01a33" stroke-width="1.1"/>
<line x1="316.2" y1="104.655" x2="319.8" y2="104.655" stroke="#b01a33" stroke-width="1.1"/>
<line x1="334.4" y1="103.517" x2="334.4" y2="105.793" stroke="#b01a33" stroke-width="1.1"/>
<line x1="332.59999999999997" y1="103.517" x2="336.2" y2="103.517" stroke="#b01a33" stroke-width="1.1"/>
<line x1="332.59999999999997" y1="105.793" x2="336.2" y2="105.793" stroke="#b01a33" stroke-width="1.1"/>
<line x1="350.7" y1="106.362" x2="350.7" y2="107.5" stroke="#b01a33" stroke-width="1.1"/>
<line x1="348.9" y1="106.362" x2="352.5" y2="106.362" stroke="#b01a33" stroke-width="1.1"/>
<line x1="348.9" y1="107.5" x2="352.5" y2="107.5" stroke="#b01a33" stroke-width="1.1"/>
<line x1="367.1" y1="106.362" x2="367.1" y2="107.5" stroke="#b01a33" stroke-width="1.1"/>
<line x1="365.3" y1="106.362" x2="368.90000000000003" y2="106.362" stroke="#b01a33" stroke-width="1.1"/>
<line x1="365.3" y1="107.5" x2="368.90000000000003" y2="107.5" stroke="#b01a33" stroke-width="1.1"/>
<line x1="383.9" y1="106.362" x2="383.9" y2="107.5" stroke="#b01a33" stroke-width="1.1"/>
<line x1="382.09999999999997" y1="106.362" x2="385.7" y2="106.362" stroke="#b01a33" stroke-width="1.1"/>
<line x1="382.09999999999997" y1="107.5" x2="385.7" y2="107.5" stroke="#b01a33" stroke-width="1.1"/>
<polyline points="318.0,102.9 334.4,104.7 350.7,106.9 367.1,106.9 383.9,106.9" fill="none" stroke="#b01a33" stroke-width="1.5" stroke-linejoin="round"/>
<rect x="316.7" y="101.6" width="2.6" height="2.6" fill="#b01a33"/>
<rect x="333.1" y="103.4" width="2.6" height="2.6" fill="#b01a33"/>
<rect x="349.4" y="105.6" width="2.6" height="2.6" fill="#b01a33"/>
<rect x="365.8" y="105.6" width="2.6" height="2.6" fill="#b01a33"/>
<rect x="382.6" y="105.6" width="2.6" height="2.6" fill="#b01a33"/>
<line x1="318.0" y1="97.258" x2="318.0" y2="101.81" stroke="#28477c" stroke-width="1.1"/>
<line x1="316.2" y1="97.258" x2="319.8" y2="97.258" stroke="#28477c" stroke-width="1.1"/>
<line x1="316.2" y1="101.81" x2="319.8" y2="101.81" stroke="#28477c" stroke-width="1.1"/>
<line x1="334.4" y1="94.413" x2="334.4" y2="101.241" stroke="#28477c" stroke-width="1.1"/>
<line x1="332.59999999999997" y1="94.413" x2="336.2" y2="94.413" stroke="#28477c" stroke-width="1.1"/>
<line x1="332.59999999999997" y1="101.241" x2="336.2" y2="101.241" stroke="#28477c" stroke-width="1.1"/>
<line x1="350.7" y1="93.275" x2="350.7" y2="102.379" stroke="#28477c" stroke-width="1.1"/>
<line x1="348.9" y1="93.275" x2="352.5" y2="93.275" stroke="#28477c" stroke-width="1.1"/>
<line x1="348.9" y1="102.379" x2="352.5" y2="102.379" stroke="#28477c" stroke-width="1.1"/>
<line x1="367.1" y1="92.137" x2="367.1" y2="101.241" stroke="#28477c" stroke-width="1.1"/>
<line x1="365.3" y1="92.137" x2="368.90000000000003" y2="92.137" stroke="#28477c" stroke-width="1.1"/>
<line x1="365.3" y1="101.241" x2="368.90000000000003" y2="101.241" stroke="#28477c" stroke-width="1.1"/>
<line x1="383.9" y1="93.844" x2="383.9" y2="101.81" stroke="#28477c" stroke-width="1.1"/>
<line x1="382.09999999999997" y1="93.844" x2="385.7" y2="93.844" stroke="#28477c" stroke-width="1.1"/>
<line x1="382.09999999999997" y1="101.81" x2="385.7" y2="101.81" stroke="#28477c" stroke-width="1.1"/>
<polyline points="318.0,99.5 334.4,97.8 350.7,97.8 367.1,96.7 383.9,97.8" fill="none" stroke="#28477c" stroke-width="1.5" stroke-linejoin="round"/>
<rect x="316.7" y="98.2" width="2.6" height="2.6" fill="#28477c"/>
<rect x="333.1" y="96.5" width="2.6" height="2.6" fill="#28477c"/>
<rect x="349.4" y="96.5" width="2.6" height="2.6" fill="#28477c"/>
<rect x="365.8" y="95.4" width="2.6" height="2.6" fill="#28477c"/>
<rect x="382.6" y="96.5" width="2.6" height="2.6" fill="#28477c"/>
<line x1="318.0" y1="98.396" x2="318.0" y2="102.94800000000001" stroke="#68ad44" stroke-width="1.1"/>
<line x1="316.2" y1="98.396" x2="319.8" y2="98.396" stroke="#68ad44" stroke-width="1.1"/>
<line x1="316.2" y1="102.94800000000001" x2="319.8" y2="102.94800000000001" stroke="#68ad44" stroke-width="1.1"/>
<line x1="334.4" y1="92.706" x2="334.4" y2="106.362" stroke="#68ad44" stroke-width="1.1"/>
<line x1="332.59999999999997" y1="92.706" x2="336.2" y2="92.706" stroke="#68ad44" stroke-width="1.1"/>
<line x1="332.59999999999997" y1="106.362" x2="336.2" y2="106.362" stroke="#68ad44" stroke-width="1.1"/>
<line x1="350.7" y1="100.672" x2="350.7" y2="107.5" stroke="#68ad44" stroke-width="1.1"/>
<line x1="348.9" y1="100.672" x2="352.5" y2="100.672" stroke="#68ad44" stroke-width="1.1"/>
<line x1="348.9" y1="107.5" x2="352.5" y2="107.5" stroke="#68ad44" stroke-width="1.1"/>
<line x1="367.1" y1="97.827" x2="367.1" y2="104.655" stroke="#68ad44" stroke-width="1.1"/>
<line x1="365.3" y1="97.827" x2="368.90000000000003" y2="97.827" stroke="#68ad44" stroke-width="1.1"/>
<line x1="365.3" y1="104.655" x2="368.90000000000003" y2="104.655" stroke="#68ad44" stroke-width="1.1"/>
<line x1="383.9" y1="99.534" x2="383.9" y2="106.362" stroke="#68ad44" stroke-width="1.1"/>
<line x1="382.09999999999997" y1="99.534" x2="385.7" y2="99.534" stroke="#68ad44" stroke-width="1.1"/>
<line x1="382.09999999999997" y1="106.362" x2="385.7" y2="106.362" stroke="#68ad44" stroke-width="1.1"/>
<polyline points="318.0,100.7 334.4,99.5 350.7,104.1 367.1,101.2 383.9,102.9" fill="none" stroke="#68ad44" stroke-width="1.5" stroke-linejoin="round"/>
<rect x="316.7" y="99.4" width="2.6" height="2.6" fill="#68ad44"/>
<rect x="333.1" y="98.2" width="2.6" height="2.6" fill="#68ad44"/>
<rect x="349.4" y="102.8" width="2.6" height="2.6" fill="#68ad44"/>
<rect x="365.8" y="99.9" width="2.6" height="2.6" fill="#68ad44"/>
<rect x="382.6" y="101.6" width="2.6" height="2.6" fill="#68ad44"/>
<line x1="318.0" y1="85.309" x2="318.0" y2="94.413" stroke="#3e2258" stroke-width="1.1"/>
<line x1="316.2" y1="85.309" x2="319.8" y2="85.309" stroke="#3e2258" stroke-width="1.1"/>
<line x1="316.2" y1="94.413" x2="319.8" y2="94.413" stroke="#3e2258" stroke-width="1.1"/>
<line x1="334.4" y1="59.70400000000001" x2="334.4" y2="84.74000000000001" stroke="#3e2258" stroke-width="1.1"/>
<line x1="332.59999999999997" y1="59.70400000000001" x2="336.2" y2="59.70400000000001" stroke="#3e2258" stroke-width="1.1"/>
<line x1="332.59999999999997" y1="84.74000000000001" x2="336.2" y2="84.74000000000001" stroke="#3e2258" stroke-width="1.1"/>
<line x1="350.7" y1="60.273" x2="350.7" y2="88.723" stroke="#3e2258" stroke-width="1.1"/>
<line x1="348.9" y1="60.273" x2="352.5" y2="60.273" stroke="#3e2258" stroke-width="1.1"/>
<line x1="348.9" y1="88.723" x2="352.5" y2="88.723" stroke="#3e2258" stroke-width="1.1"/>
<line x1="367.1" y1="58.566" x2="367.1" y2="85.878" stroke="#3e2258" stroke-width="1.1"/>
<line x1="365.3" y1="58.566" x2="368.90000000000003" y2="58.566" stroke="#3e2258" stroke-width="1.1"/>
<line x1="365.3" y1="85.878" x2="368.90000000000003" y2="85.878" stroke="#3e2258" stroke-width="1.1"/>
<line x1="383.9" y1="58.566" x2="383.9" y2="87.016" stroke="#3e2258" stroke-width="1.1"/>
<line x1="382.09999999999997" y1="58.566" x2="385.7" y2="58.566" stroke="#3e2258" stroke-width="1.1"/>
<line x1="382.09999999999997" y1="87.016" x2="385.7" y2="87.016" stroke="#3e2258" stroke-width="1.1"/>
<polyline points="318.0,89.9 334.4,72.2 350.7,74.5 367.1,72.2 383.9,72.8" fill="none" stroke="#3e2258" stroke-width="1.5" stroke-linejoin="round"/>
<rect x="316.7" y="88.6" width="2.6" height="2.6" fill="#3e2258"/>
<rect x="333.1" y="70.9" width="2.6" height="2.6" fill="#3e2258"/>
<rect x="349.4" y="73.2" width="2.6" height="2.6" fill="#3e2258"/>
<rect x="365.8" y="70.9" width="2.6" height="2.6" fill="#3e2258"/>
<rect x="382.6" y="71.5" width="2.6" height="2.6" fill="#3e2258"/>
<polyline points="392.5,72.2 394.5,72.2 394.5,106.8 392.5,106.8" fill="none" stroke="#1a1a1a" stroke-width="1.1"/>
<text x="398.3" y="92.90" font-size="5.4" text-anchor="middle" fill="#1a1a1a" stroke="#1a1a1a" stroke-width="0.1">*</text>
<line x1="421.3" y1="36.5" x2="421.3" y2="108.15" stroke="#111" stroke-width="1.3"/>
<line x1="420.65000000000003" y1="107.5" x2="503.7" y2="107.5" stroke="#111" stroke-width="1.3"/>
<line x1="418.3" y1="107.5" x2="421.3" y2="107.5" stroke="#111" stroke-width="1"/>
<text x="415.90000000000003" y="109.8" font-size="6.3" text-anchor="end" font-weight="normal" fill="#222" >0</text>
<line x1="418.3" y1="84.74000000000001" x2="421.3" y2="84.74000000000001" stroke="#111" stroke-width="1"/>
<text x="415.90000000000003" y="87.04" font-size="6.3" text-anchor="end" font-weight="normal" fill="#222" >20</text>
<line x1="418.3" y1="61.980000000000004" x2="421.3" y2="61.980000000000004" stroke="#111" stroke-width="1"/>
<text x="415.90000000000003" y="64.28" font-size="6.3" text-anchor="end" font-weight="normal" fill="#222" >40</text>
<line x1="418.3" y1="39.22" x2="421.3" y2="39.22" stroke="#111" stroke-width="1"/>
<text x="415.90000000000003" y="41.519999999999996" font-size="6.3" text-anchor="end" font-weight="normal" fill="#222" >60</text>
<line x1="429.8" y1="107.5" x2="429.8" y2="110.5" stroke="#111" stroke-width="1"/>
<text x="429.8" y="119.1" font-size="6.4" text-anchor="middle" font-weight="normal" fill="#222" >4</text>
<line x1="446.2" y1="107.5" x2="446.2" y2="110.5" stroke="#111" stroke-width="1"/>
<text x="446.2" y="119.1" font-size="6.4" text-anchor="middle" font-weight="normal" fill="#222" >8</text>
<line x1="462.6" y1="107.5" x2="462.6" y2="110.5" stroke="#111" stroke-width="1"/>
<text x="462.6" y="119.1" font-size="6.4" text-anchor="middle" font-weight="normal" fill="#222" >12</text>
<line x1="479.0" y1="107.5" x2="479.0" y2="110.5" stroke="#111" stroke-width="1"/>
<text x="479.0" y="119.1" font-size="6.4" text-anchor="middle" font-weight="normal" fill="#222" >16</text>
<line x1="495.5" y1="107.5" x2="495.5" y2="110.5" stroke="#111" stroke-width="1"/>
<text x="495.5" y="119.1" font-size="6.4" text-anchor="middle" font-weight="normal" fill="#222" >20</text>
<text x="462.2" y="31.6" font-size="7.7" text-anchor="middle" font-weight="normal" fill="#222" >Mac1<tspan font-size="6.2" dy="-2.7">+</tspan><tspan dy="2.7">Gr1</tspan><tspan font-size="6.2" dy="-2.7">+</tspan></text>
<line x1="429.8" y1="102.379" x2="429.8" y2="105.793" stroke="#b01a33" stroke-width="1.1"/>
<line x1="428.0" y1="102.379" x2="431.6" y2="102.379" stroke="#b01a33" stroke-width="1.1"/>
<line x1="428.0" y1="105.793" x2="431.6" y2="105.793" stroke="#b01a33" stroke-width="1.1"/>
<line x1="446.2" y1="106.8172" x2="446.2" y2="107.5" stroke="#b01a33" stroke-width="1.1"/>
<line x1="444.4" y1="106.8172" x2="448.0" y2="106.8172" stroke="#b01a33" stroke-width="1.1"/>
<line x1="444.4" y1="107.5" x2="448.0" y2="107.5" stroke="#b01a33" stroke-width="1.1"/>
<polyline points="429.8,104.1 446.2,107.2 462.6,107.5 479.0,107.5 495.5,107.5" fill="none" stroke="#b01a33" stroke-width="1.5" stroke-linejoin="round"/>
<rect x="428.5" y="102.8" width="2.6" height="2.6" fill="#b01a33"/>
<rect x="444.9" y="105.9" width="2.6" height="2.6" fill="#b01a33"/>
<rect x="461.3" y="106.2" width="2.6" height="2.6" fill="#b01a33"/>
<rect x="477.7" y="106.2" width="2.6" height="2.6" fill="#b01a33"/>
<rect x="494.2" y="106.2" width="2.6" height="2.6" fill="#b01a33"/>
<line x1="429.8" y1="95.551" x2="429.8" y2="102.379" stroke="#28477c" stroke-width="1.1"/>
<line x1="428.0" y1="95.551" x2="431.6" y2="95.551" stroke="#28477c" stroke-width="1.1"/>
<line x1="428.0" y1="102.379" x2="431.6" y2="102.379" stroke="#28477c" stroke-width="1.1"/>
<line x1="446.2" y1="98.396" x2="446.2" y2="105.224" stroke="#28477c" stroke-width="1.1"/>
<line x1="444.4" y1="98.396" x2="448.0" y2="98.396" stroke="#28477c" stroke-width="1.1"/>
<line x1="444.4" y1="105.224" x2="448.0" y2="105.224" stroke="#28477c" stroke-width="1.1"/>
<line x1="462.6" y1="100.103" x2="462.6" y2="106.931" stroke="#28477c" stroke-width="1.1"/>
<line x1="460.8" y1="100.103" x2="464.40000000000003" y2="100.103" stroke="#28477c" stroke-width="1.1"/>
<line x1="460.8" y1="106.931" x2="464.40000000000003" y2="106.931" stroke="#28477c" stroke-width="1.1"/>
<line x1="479.0" y1="100.672" x2="479.0" y2="107.5" stroke="#28477c" stroke-width="1.1"/>
<line x1="477.2" y1="100.672" x2="480.8" y2="100.672" stroke="#28477c" stroke-width="1.1"/>
<line x1="477.2" y1="107.5" x2="480.8" y2="107.5" stroke="#28477c" stroke-width="1.1"/>
<line x1="495.5" y1="104.655" x2="495.5" y2="106.931" stroke="#28477c" stroke-width="1.1"/>
<line x1="493.7" y1="104.655" x2="497.3" y2="104.655" stroke="#28477c" stroke-width="1.1"/>
<line x1="493.7" y1="106.931" x2="497.3" y2="106.931" stroke="#28477c" stroke-width="1.1"/>
<polyline points="429.8,99.0 446.2,101.8 462.6,103.5 479.0,104.1 495.5,105.8" fill="none" stroke="#28477c" stroke-width="1.5" stroke-linejoin="round"/>
<rect x="428.5" y="97.7" width="2.6" height="2.6" fill="#28477c"/>
<rect x="444.9" y="100.5" width="2.6" height="2.6" fill="#28477c"/>
<rect x="461.3" y="102.2" width="2.6" height="2.6" fill="#28477c"/>
<rect x="477.7" y="102.8" width="2.6" height="2.6" fill="#28477c"/>
<rect x="494.2" y="104.5" width="2.6" height="2.6" fill="#28477c"/>
<line x1="429.8" y1="99.534" x2="429.8" y2="104.086" stroke="#68ad44" stroke-width="1.1"/>
<line x1="428.0" y1="99.534" x2="431.6" y2="99.534" stroke="#68ad44" stroke-width="1.1"/>
<line x1="428.0" y1="104.086" x2="431.6" y2="104.086" stroke="#68ad44" stroke-width="1.1"/>
<line x1="446.2" y1="105.793" x2="446.2" y2="106.931" stroke="#68ad44" stroke-width="1.1"/>
<line x1="444.4" y1="105.793" x2="448.0" y2="105.793" stroke="#68ad44" stroke-width="1.1"/>
<line x1="444.4" y1="106.931" x2="448.0" y2="106.931" stroke="#68ad44" stroke-width="1.1"/>
<line x1="462.6" y1="106.5896" x2="462.6" y2="107.2724" stroke="#68ad44" stroke-width="1.1"/>
<line x1="460.8" y1="106.5896" x2="464.40000000000003" y2="106.5896" stroke="#68ad44" stroke-width="1.1"/>
<line x1="460.8" y1="107.2724" x2="464.40000000000003" y2="107.2724" stroke="#68ad44" stroke-width="1.1"/>
<line x1="479.0" y1="106.5896" x2="479.0" y2="107.2724" stroke="#68ad44" stroke-width="1.1"/>
<line x1="477.2" y1="106.5896" x2="480.8" y2="106.5896" stroke="#68ad44" stroke-width="1.1"/>
<line x1="477.2" y1="107.2724" x2="480.8" y2="107.2724" stroke="#68ad44" stroke-width="1.1"/>
<line x1="495.5" y1="106.5896" x2="495.5" y2="107.2724" stroke="#68ad44" stroke-width="1.1"/>
<line x1="493.7" y1="106.5896" x2="497.3" y2="106.5896" stroke="#68ad44" stroke-width="1.1"/>
<line x1="493.7" y1="107.2724" x2="497.3" y2="107.2724" stroke="#68ad44" stroke-width="1.1"/>
<polyline points="429.8,101.8 446.2,106.4 462.6,106.9 479.0,106.9 495.5,106.9" fill="none" stroke="#68ad44" stroke-width="1.5" stroke-linejoin="round"/>
<rect x="428.5" y="100.5" width="2.6" height="2.6" fill="#68ad44"/>
<rect x="444.9" y="105.1" width="2.6" height="2.6" fill="#68ad44"/>
<rect x="461.3" y="105.6" width="2.6" height="2.6" fill="#68ad44"/>
<rect x="477.7" y="105.6" width="2.6" height="2.6" fill="#68ad44"/>
<rect x="494.2" y="105.6" width="2.6" height="2.6" fill="#68ad44"/>
<line x1="429.8" y1="93.844" x2="429.8" y2="105.224" stroke="#3e2258" stroke-width="1.1"/>
<line x1="428.0" y1="93.844" x2="431.6" y2="93.844" stroke="#3e2258" stroke-width="1.1"/>
<line x1="428.0" y1="105.224" x2="431.6" y2="105.224" stroke="#3e2258" stroke-width="1.1"/>
<line x1="446.2" y1="65.394" x2="446.2" y2="93.844" stroke="#3e2258" stroke-width="1.1"/>
<line x1="444.4" y1="65.394" x2="448.0" y2="65.394" stroke="#3e2258" stroke-width="1.1"/>
<line x1="444.4" y1="93.844" x2="448.0" y2="93.844" stroke="#3e2258" stroke-width="1.1"/>
<line x1="462.6" y1="60.842000000000006" x2="462.6" y2="92.706" stroke="#3e2258" stroke-width="1.1"/>
<line x1="460.8" y1="60.842000000000006" x2="464.40000000000003" y2="60.842000000000006" stroke="#3e2258" stroke-width="1.1"/>
<line x1="460.8" y1="92.706" x2="464.40000000000003" y2="92.706" stroke="#3e2258" stroke-width="1.1"/>
<line x1="479.0" y1="60.273" x2="479.0" y2="92.137" stroke="#3e2258" stroke-width="1.1"/>
<line x1="477.2" y1="60.273" x2="480.8" y2="60.273" stroke="#3e2258" stroke-width="1.1"/>
<line x1="477.2" y1="92.137" x2="480.8" y2="92.137" stroke="#3e2258" stroke-width="1.1"/>
<line x1="495.5" y1="61.980000000000004" x2="495.5" y2="92.706" stroke="#3e2258" stroke-width="1.1"/>
<line x1="493.7" y1="61.980000000000004" x2="497.3" y2="61.980000000000004" stroke="#3e2258" stroke-width="1.1"/>
<line x1="493.7" y1="92.706" x2="497.3" y2="92.706" stroke="#3e2258" stroke-width="1.1"/>
<polyline points="429.8,99.5 446.2,79.6 462.6,76.8 479.0,76.2 495.5,77.3" fill="none" stroke="#3e2258" stroke-width="1.5" stroke-linejoin="round"/>
<rect x="428.5" y="98.2" width="2.6" height="2.6" fill="#3e2258"/>
<rect x="444.9" y="78.3" width="2.6" height="2.6" fill="#3e2258"/>
<rect x="461.3" y="75.5" width="2.6" height="2.6" fill="#3e2258"/>
<rect x="477.7" y="74.9" width="2.6" height="2.6" fill="#3e2258"/>
<rect x="494.2" y="76.0" width="2.6" height="2.6" fill="#3e2258"/>
<line x1="309.4" y1="143" x2="309.4" y2="214.65" stroke="#111" stroke-width="1.3"/>
<line x1="308.75" y1="214.0" x2="391" y2="214.0" stroke="#111" stroke-width="1.3"/>
<line x1="306.4" y1="214.0" x2="309.4" y2="214.0" stroke="#111" stroke-width="1"/>
<text x="304.0" y="216.3" font-size="6.3" text-anchor="end" font-weight="normal" fill="#222" >0</text>
<line x1="306.4" y1="191.2" x2="309.4" y2="191.2" stroke="#111" stroke-width="1"/>
<text x="304.0" y="193.5" font-size="6.3" text-anchor="end" font-weight="normal" fill="#222" >20</text>
<line x1="306.4" y1="168.4" x2="309.4" y2="168.4" stroke="#111" stroke-width="1"/>
<text x="304.0" y="170.70000000000002" font-size="6.3" text-anchor="end" font-weight="normal" fill="#222" >40</text>
<line x1="306.4" y1="145.60000000000002" x2="309.4" y2="145.60000000000002" stroke="#111" stroke-width="1"/>
<text x="304.0" y="147.90000000000003" font-size="6.3" text-anchor="end" font-weight="normal" fill="#222" >60</text>
<line x1="318.0" y1="214.0" x2="318.0" y2="217.0" stroke="#111" stroke-width="1"/>
<text x="318.0" y="225.6" font-size="6.4" text-anchor="middle" font-weight="normal" fill="#222" >4</text>
<line x1="334.4" y1="214.0" x2="334.4" y2="217.0" stroke="#111" stroke-width="1"/>
<text x="334.4" y="225.6" font-size="6.4" text-anchor="middle" font-weight="normal" fill="#222" >8</text>
<line x1="350.7" y1="214.0" x2="350.7" y2="217.0" stroke="#111" stroke-width="1"/>
<text x="350.7" y="225.6" font-size="6.4" text-anchor="middle" font-weight="normal" fill="#222" >12</text>
<line x1="367.1" y1="214.0" x2="367.1" y2="217.0" stroke="#111" stroke-width="1"/>
<text x="367.1" y="225.6" font-size="6.4" text-anchor="middle" font-weight="normal" fill="#222" >16</text>
<line x1="383.9" y1="214.0" x2="383.9" y2="217.0" stroke="#111" stroke-width="1"/>
<text x="383.9" y="225.6" font-size="6.4" text-anchor="middle" font-weight="normal" fill="#222" >20</text>
<text x="350.5" y="137.7" font-size="7.6" text-anchor="middle" font-weight="normal" fill="#222" >B220<tspan font-size="6.2" dy="-2.7">+</tspan></text>
<text transform="translate(291.5,179.4) rotate(-90)" font-size="8.4" font-weight="bold" text-anchor="middle" fill="#383838" textLength="40" lengthAdjust="spacingAndGlyphs">Donor cells (%)</text>
<line x1="318.0" y1="203.74" x2="318.0" y2="207.16" stroke="#b01a33" stroke-width="1.1"/>
<line x1="316.2" y1="203.74" x2="319.8" y2="203.74" stroke="#b01a33" stroke-width="1.1"/>
<line x1="316.2" y1="207.16" x2="319.8" y2="207.16" stroke="#b01a33" stroke-width="1.1"/>
<line x1="334.4" y1="208.3" x2="334.4" y2="210.58" stroke="#b01a33" stroke-width="1.1"/>
<line x1="332.59999999999997" y1="208.3" x2="336.2" y2="208.3" stroke="#b01a33" stroke-width="1.1"/>
<line x1="332.59999999999997" y1="210.58" x2="336.2" y2="210.58" stroke="#b01a33" stroke-width="1.1"/>
<line x1="350.7" y1="211.72" x2="350.7" y2="212.86" stroke="#b01a33" stroke-width="1.1"/>
<line x1="348.9" y1="211.72" x2="352.5" y2="211.72" stroke="#b01a33" stroke-width="1.1"/>
<line x1="348.9" y1="212.86" x2="352.5" y2="212.86" stroke="#b01a33" stroke-width="1.1"/>
<line x1="367.1" y1="211.72" x2="367.1" y2="212.86" stroke="#b01a33" stroke-width="1.1"/>
<line x1="365.3" y1="211.72" x2="368.90000000000003" y2="211.72" stroke="#b01a33" stroke-width="1.1"/>
<line x1="365.3" y1="212.86" x2="368.90000000000003" y2="212.86" stroke="#b01a33" stroke-width="1.1"/>
<line x1="383.9" y1="211.72" x2="383.9" y2="212.86" stroke="#b01a33" stroke-width="1.1"/>
<line x1="382.09999999999997" y1="211.72" x2="385.7" y2="211.72" stroke="#b01a33" stroke-width="1.1"/>
<line x1="382.09999999999997" y1="212.86" x2="385.7" y2="212.86" stroke="#b01a33" stroke-width="1.1"/>
<polyline points="318.0,205.4 334.4,209.4 350.7,212.3 367.1,212.3 383.9,212.3" fill="none" stroke="#b01a33" stroke-width="1.5" stroke-linejoin="round"/>
<rect x="316.7" y="204.1" width="2.6" height="2.6" fill="#b01a33"/>
<rect x="333.1" y="208.1" width="2.6" height="2.6" fill="#b01a33"/>
<rect x="349.4" y="211.0" width="2.6" height="2.6" fill="#b01a33"/>
<rect x="365.8" y="211.0" width="2.6" height="2.6" fill="#b01a33"/>
<rect x="382.6" y="211.0" width="2.6" height="2.6" fill="#b01a33"/>
<line x1="318.0" y1="194.05" x2="318.0" y2="203.17000000000002" stroke="#28477c" stroke-width="1.1"/>
<line x1="316.2" y1="194.05" x2="319.8" y2="194.05" stroke="#28477c" stroke-width="1.1"/>
<line x1="316.2" y1="203.17000000000002" x2="319.8" y2="203.17000000000002" stroke="#28477c" stroke-width="1.1"/>
<line x1="334.4" y1="192.91" x2="334.4" y2="202.03" stroke="#28477c" stroke-width="1.1"/>
<line x1="332.59999999999997" y1="192.91" x2="336.2" y2="192.91" stroke="#28477c" stroke-width="1.1"/>
<line x1="332.59999999999997" y1="202.03" x2="336.2" y2="202.03" stroke="#28477c" stroke-width="1.1"/>
<line x1="350.7" y1="192.34" x2="350.7" y2="203.74" stroke="#28477c" stroke-width="1.1"/>
<line x1="348.9" y1="192.34" x2="352.5" y2="192.34" stroke="#28477c" stroke-width="1.1"/>
<line x1="348.9" y1="203.74" x2="352.5" y2="203.74" stroke="#28477c" stroke-width="1.1"/>
<line x1="367.1" y1="193.48" x2="367.1" y2="204.88" stroke="#28477c" stroke-width="1.1"/>
<line x1="365.3" y1="193.48" x2="368.90000000000003" y2="193.48" stroke="#28477c" stroke-width="1.1"/>
<line x1="365.3" y1="204.88" x2="368.90000000000003" y2="204.88" stroke="#28477c" stroke-width="1.1"/>
<line x1="383.9" y1="195.19" x2="383.9" y2="204.31" stroke="#28477c" stroke-width="1.1"/>
<line x1="382.09999999999997" y1="195.19" x2="385.7" y2="195.19" stroke="#28477c" stroke-width="1.1"/>
<line x1="382.09999999999997" y1="204.31" x2="385.7" y2="204.31" stroke="#28477c" stroke-width="1.1"/>
<polyline points="318.0,198.6 334.4,197.5 350.7,198.0 367.1,199.2 383.9,199.8" fill="none" stroke="#28477c" stroke-width="1.5" stroke-linejoin="round"/>
<rect x="316.7" y="197.3" width="2.6" height="2.6" fill="#28477c"/>
<rect x="333.1" y="196.2" width="2.6" height="2.6" fill="#28477c"/>
<rect x="349.4" y="196.7" width="2.6" height="2.6" fill="#28477c"/>
<rect x="365.8" y="197.9" width="2.6" height="2.6" fill="#28477c"/>
<rect x="382.6" y="198.4" width="2.6" height="2.6" fill="#28477c"/>
<line x1="318.0" y1="192.34" x2="318.0" y2="203.74" stroke="#68ad44" stroke-width="1.1"/>
<line x1="316.2" y1="192.34" x2="319.8" y2="192.34" stroke="#68ad44" stroke-width="1.1"/>
<line x1="316.2" y1="203.74" x2="319.8" y2="203.74" stroke="#68ad44" stroke-width="1.1"/>
<line x1="334.4" y1="198.04" x2="334.4" y2="207.16" stroke="#68ad44" stroke-width="1.1"/>
<line x1="332.59999999999997" y1="198.04" x2="336.2" y2="198.04" stroke="#68ad44" stroke-width="1.1"/>
<line x1="332.59999999999997" y1="207.16" x2="336.2" y2="207.16" stroke="#68ad44" stroke-width="1.1"/>
<line x1="350.7" y1="202.03" x2="350.7" y2="208.87" stroke="#68ad44" stroke-width="1.1"/>
<line x1="348.9" y1="202.03" x2="352.5" y2="202.03" stroke="#68ad44" stroke-width="1.1"/>
<line x1="348.9" y1="208.87" x2="352.5" y2="208.87" stroke="#68ad44" stroke-width="1.1"/>
<line x1="367.1" y1="202.6" x2="367.1" y2="208.3" stroke="#68ad44" stroke-width="1.1"/>
<line x1="365.3" y1="202.6" x2="368.90000000000003" y2="202.6" stroke="#68ad44" stroke-width="1.1"/>
<line x1="365.3" y1="208.3" x2="368.90000000000003" y2="208.3" stroke="#68ad44" stroke-width="1.1"/>
<line x1="383.9" y1="203.17000000000002" x2="383.9" y2="208.87" stroke="#68ad44" stroke-width="1.1"/>
<line x1="382.09999999999997" y1="203.17000000000002" x2="385.7" y2="203.17000000000002" stroke="#68ad44" stroke-width="1.1"/>
<line x1="382.09999999999997" y1="208.87" x2="385.7" y2="208.87" stroke="#68ad44" stroke-width="1.1"/>
<polyline points="318.0,198.0 334.4,202.6 350.7,205.4 367.1,205.4 383.9,206.0" fill="none" stroke="#68ad44" stroke-width="1.5" stroke-linejoin="round"/>
<rect x="316.7" y="196.7" width="2.6" height="2.6" fill="#68ad44"/>
<rect x="333.1" y="201.3" width="2.6" height="2.6" fill="#68ad44"/>
<rect x="349.4" y="204.1" width="2.6" height="2.6" fill="#68ad44"/>
<rect x="365.8" y="204.1" width="2.6" height="2.6" fill="#68ad44"/>
<rect x="382.6" y="204.7" width="2.6" height="2.6" fill="#68ad44"/>
<line x1="318.0" y1="167.26" x2="318.0" y2="183.22" stroke="#3e2258" stroke-width="1.1"/>
<line x1="316.2" y1="167.26" x2="319.8" y2="167.26" stroke="#3e2258" stroke-width="1.1"/>
<line x1="316.2" y1="183.22" x2="319.8" y2="183.22" stroke="#3e2258" stroke-width="1.1"/>
<line x1="334.4" y1="159.85" x2="334.4" y2="188.35" stroke="#3e2258" stroke-width="1.1"/>
<line x1="332.59999999999997" y1="159.85" x2="336.2" y2="159.85" stroke="#3e2258" stroke-width="1.1"/>
<line x1="332.59999999999997" y1="188.35" x2="336.2" y2="188.35" stroke="#3e2258" stroke-width="1.1"/>
<line x1="350.7" y1="161.56" x2="350.7" y2="191.2" stroke="#3e2258" stroke-width="1.1"/>
<line x1="348.9" y1="161.56" x2="352.5" y2="161.56" stroke="#3e2258" stroke-width="1.1"/>
<line x1="348.9" y1="191.2" x2="352.5" y2="191.2" stroke="#3e2258" stroke-width="1.1"/>
<line x1="367.1" y1="161.56" x2="367.1" y2="191.2" stroke="#3e2258" stroke-width="1.1"/>
<line x1="365.3" y1="161.56" x2="368.90000000000003" y2="161.56" stroke="#3e2258" stroke-width="1.1"/>
<line x1="365.3" y1="191.2" x2="368.90000000000003" y2="191.2" stroke="#3e2258" stroke-width="1.1"/>
<line x1="383.9" y1="160.99" x2="383.9" y2="191.77" stroke="#3e2258" stroke-width="1.1"/>
<line x1="382.09999999999997" y1="160.99" x2="385.7" y2="160.99" stroke="#3e2258" stroke-width="1.1"/>
<line x1="382.09999999999997" y1="191.77" x2="385.7" y2="191.77" stroke="#3e2258" stroke-width="1.1"/>
<polyline points="318.0,175.2 334.4,174.1 350.7,176.4 367.1,176.4 383.9,176.4" fill="none" stroke="#3e2258" stroke-width="1.5" stroke-linejoin="round"/>
<rect x="316.7" y="173.9" width="2.6" height="2.6" fill="#3e2258"/>
<rect x="333.1" y="172.8" width="2.6" height="2.6" fill="#3e2258"/>
<rect x="349.4" y="175.1" width="2.6" height="2.6" fill="#3e2258"/>
<rect x="365.8" y="175.1" width="2.6" height="2.6" fill="#3e2258"/>
<rect x="382.6" y="175.1" width="2.6" height="2.6" fill="#3e2258"/>
<line x1="421.4" y1="143" x2="421.4" y2="214.65" stroke="#111" stroke-width="1.3"/>
<line x1="420.75" y1="214.0" x2="503.5" y2="214.0" stroke="#111" stroke-width="1.3"/>
<line x1="418.4" y1="214.0" x2="421.4" y2="214.0" stroke="#111" stroke-width="1"/>
<text x="416.0" y="216.3" font-size="6.3" text-anchor="end" font-weight="normal" fill="#222" >0</text>
<line x1="418.4" y1="191.2" x2="421.4" y2="191.2" stroke="#111" stroke-width="1"/>
<text x="416.0" y="193.5" font-size="6.3" text-anchor="end" font-weight="normal" fill="#222" >20</text>
<line x1="418.4" y1="168.4" x2="421.4" y2="168.4" stroke="#111" stroke-width="1"/>
<text x="416.0" y="170.70000000000002" font-size="6.3" text-anchor="end" font-weight="normal" fill="#222" >40</text>
<line x1="418.4" y1="145.60000000000002" x2="421.4" y2="145.60000000000002" stroke="#111" stroke-width="1"/>
<text x="416.0" y="147.90000000000003" font-size="6.3" text-anchor="end" font-weight="normal" fill="#222" >60</text>
<line x1="429.6" y1="214.0" x2="429.6" y2="217.0" stroke="#111" stroke-width="1"/>
<text x="429.6" y="225.6" font-size="6.4" text-anchor="middle" font-weight="normal" fill="#222" >4</text>
<line x1="446.0" y1="214.0" x2="446.0" y2="217.0" stroke="#111" stroke-width="1"/>
<text x="446.0" y="225.6" font-size="6.4" text-anchor="middle" font-weight="normal" fill="#222" >8</text>
<line x1="462.4" y1="214.0" x2="462.4" y2="217.0" stroke="#111" stroke-width="1"/>
<text x="462.4" y="225.6" font-size="6.4" text-anchor="middle" font-weight="normal" fill="#222" >12</text>
<line x1="478.8" y1="214.0" x2="478.8" y2="217.0" stroke="#111" stroke-width="1"/>
<text x="478.8" y="225.6" font-size="6.4" text-anchor="middle" font-weight="normal" fill="#222" >16</text>
<line x1="495.2" y1="214.0" x2="495.2" y2="217.0" stroke="#111" stroke-width="1"/>
<text x="495.2" y="225.6" font-size="6.4" text-anchor="middle" font-weight="normal" fill="#222" >20</text>
<text x="461.9" y="137.7" font-size="7.6" text-anchor="middle" font-weight="normal" fill="#222" >CD3<tspan font-size="6.2" dy="-2.7">+</tspan></text>
<line x1="446.0" y1="209.44" x2="446.0" y2="211.72" stroke="#b01a33" stroke-width="1.1"/>
<line x1="444.2" y1="209.44" x2="447.8" y2="209.44" stroke="#b01a33" stroke-width="1.1"/>
<line x1="444.2" y1="211.72" x2="447.8" y2="211.72" stroke="#b01a33" stroke-width="1.1"/>
<line x1="462.4" y1="210.58" x2="462.4" y2="212.86" stroke="#b01a33" stroke-width="1.1"/>
<line x1="460.59999999999997" y1="210.58" x2="464.2" y2="210.58" stroke="#b01a33" stroke-width="1.1"/>
<line x1="460.59999999999997" y1="212.86" x2="464.2" y2="212.86" stroke="#b01a33" stroke-width="1.1"/>
<line x1="478.8" y1="211.72" x2="478.8" y2="214.0" stroke="#b01a33" stroke-width="1.1"/>
<line x1="477.0" y1="211.72" x2="480.6" y2="211.72" stroke="#b01a33" stroke-width="1.1"/>
<line x1="477.0" y1="214.0" x2="480.6" y2="214.0" stroke="#b01a33" stroke-width="1.1"/>
<line x1="495.2" y1="211.72" x2="495.2" y2="214.0" stroke="#b01a33" stroke-width="1.1"/>
<line x1="493.4" y1="211.72" x2="497.0" y2="211.72" stroke="#b01a33" stroke-width="1.1"/>
<line x1="493.4" y1="214.0" x2="497.0" y2="214.0" stroke="#b01a33" stroke-width="1.1"/>
<polyline points="429.6,214.0 446.0,210.6 462.4,211.7 478.8,212.9 495.2,212.9" fill="none" stroke="#b01a33" stroke-width="1.5" stroke-linejoin="round"/>
<rect x="428.3" y="212.7" width="2.6" height="2.6" fill="#b01a33"/>
<rect x="444.7" y="209.3" width="2.6" height="2.6" fill="#b01a33"/>
<rect x="461.1" y="210.4" width="2.6" height="2.6" fill="#b01a33"/>
<rect x="477.5" y="211.6" width="2.6" height="2.6" fill="#b01a33"/>
<rect x="493.9" y="211.6" width="2.6" height="2.6" fill="#b01a33"/>
<line x1="446.0" y1="204.88" x2="446.0" y2="209.44" stroke="#28477c" stroke-width="1.1"/>
<line x1="444.2" y1="204.88" x2="447.8" y2="204.88" stroke="#28477c" stroke-width="1.1"/>
<line x1="444.2" y1="209.44" x2="447.8" y2="209.44" stroke="#28477c" stroke-width="1.1"/>
<line x1="462.4" y1="200.89" x2="462.4" y2="207.73" stroke="#28477c" stroke-width="1.1"/>
<line x1="460.59999999999997" y1="200.89" x2="464.2" y2="200.89" stroke="#28477c" stroke-width="1.1"/>
<line x1="460.59999999999997" y1="207.73" x2="464.2" y2="207.73" stroke="#28477c" stroke-width="1.1"/>
<line x1="478.8" y1="198.61" x2="478.8" y2="206.59" stroke="#28477c" stroke-width="1.1"/>
<line x1="477.0" y1="198.61" x2="480.6" y2="198.61" stroke="#28477c" stroke-width="1.1"/>
<line x1="477.0" y1="206.59" x2="480.6" y2="206.59" stroke="#28477c" stroke-width="1.1"/>
<line x1="495.2" y1="200.32" x2="495.2" y2="207.16" stroke="#28477c" stroke-width="1.1"/>
<line x1="493.4" y1="200.32" x2="497.0" y2="200.32" stroke="#28477c" stroke-width="1.1"/>
<line x1="493.4" y1="207.16" x2="497.0" y2="207.16" stroke="#28477c" stroke-width="1.1"/>
<polyline points="429.6,214.0 446.0,207.2 462.4,204.3 478.8,202.6 495.2,203.7" fill="none" stroke="#28477c" stroke-width="1.5" stroke-linejoin="round"/>
<rect x="428.3" y="212.7" width="2.6" height="2.6" fill="#28477c"/>
<rect x="444.7" y="205.9" width="2.6" height="2.6" fill="#28477c"/>
<rect x="461.1" y="203.0" width="2.6" height="2.6" fill="#28477c"/>
<rect x="477.5" y="201.3" width="2.6" height="2.6" fill="#28477c"/>
<rect x="493.9" y="202.4" width="2.6" height="2.6" fill="#28477c"/>
<line x1="446.0" y1="203.74" x2="446.0" y2="210.58" stroke="#68ad44" stroke-width="1.1"/>
<line x1="444.2" y1="203.74" x2="447.8" y2="203.74" stroke="#68ad44" stroke-width="1.1"/>
<line x1="444.2" y1="210.58" x2="447.8" y2="210.58" stroke="#68ad44" stroke-width="1.1"/>
<line x1="462.4" y1="204.88" x2="462.4" y2="211.72" stroke="#68ad44" stroke-width="1.1"/>
<line x1="460.59999999999997" y1="204.88" x2="464.2" y2="204.88" stroke="#68ad44" stroke-width="1.1"/>
<line x1="460.59999999999997" y1="211.72" x2="464.2" y2="211.72" stroke="#68ad44" stroke-width="1.1"/>
<line x1="478.8" y1="202.6" x2="478.8" y2="209.44" stroke="#68ad44" stroke-width="1.1"/>
<line x1="477.0" y1="202.6" x2="480.6" y2="202.6" stroke="#68ad44" stroke-width="1.1"/>
<line x1="477.0" y1="209.44" x2="480.6" y2="209.44" stroke="#68ad44" stroke-width="1.1"/>
<line x1="495.2" y1="202.6" x2="495.2" y2="209.44" stroke="#68ad44" stroke-width="1.1"/>
<line x1="493.4" y1="202.6" x2="497.0" y2="202.6" stroke="#68ad44" stroke-width="1.1"/>
<line x1="493.4" y1="209.44" x2="497.0" y2="209.44" stroke="#68ad44" stroke-width="1.1"/>
<polyline points="429.6,214.0 446.0,207.2 462.4,208.3 478.8,206.0 495.2,206.0" fill="none" stroke="#68ad44" stroke-width="1.5" stroke-linejoin="round"/>
<rect x="428.3" y="212.7" width="2.6" height="2.6" fill="#68ad44"/>
<rect x="444.7" y="205.9" width="2.6" height="2.6" fill="#68ad44"/>
<rect x="461.1" y="207.0" width="2.6" height="2.6" fill="#68ad44"/>
<rect x="477.5" y="204.7" width="2.6" height="2.6" fill="#68ad44"/>
<rect x="493.9" y="204.7" width="2.6" height="2.6" fill="#68ad44"/>
<line x1="446.0" y1="192.34" x2="446.0" y2="199.18" stroke="#3e2258" stroke-width="1.1"/>
<line x1="444.2" y1="192.34" x2="447.8" y2="192.34" stroke="#3e2258" stroke-width="1.1"/>
<line x1="444.2" y1="199.18" x2="447.8" y2="199.18" stroke="#3e2258" stroke-width="1.1"/>
<line x1="462.4" y1="179.8" x2="462.4" y2="193.48" stroke="#3e2258" stroke-width="1.1"/>
<line x1="460.59999999999997" y1="179.8" x2="464.2" y2="179.8" stroke="#3e2258" stroke-width="1.1"/>
<line x1="460.59999999999997" y1="193.48" x2="464.2" y2="193.48" stroke="#3e2258" stroke-width="1.1"/>
<line x1="478.8" y1="171.82" x2="478.8" y2="192.34" stroke="#3e2258" stroke-width="1.1"/>
<line x1="477.0" y1="171.82" x2="480.6" y2="171.82" stroke="#3e2258" stroke-width="1.1"/>
<line x1="477.0" y1="192.34" x2="480.6" y2="192.34" stroke="#3e2258" stroke-width="1.1"/>
<line x1="495.2" y1="171.82" x2="495.2" y2="192.34" stroke="#3e2258" stroke-width="1.1"/>
<line x1="493.4" y1="171.82" x2="497.0" y2="171.82" stroke="#3e2258" stroke-width="1.1"/>
<line x1="493.4" y1="192.34" x2="497.0" y2="192.34" stroke="#3e2258" stroke-width="1.1"/>
<polyline points="429.6,214.0 446.0,195.8 462.4,186.6 478.8,182.1 495.2,182.1" fill="none" stroke="#3e2258" stroke-width="1.5" stroke-linejoin="round"/>
<rect x="428.3" y="212.7" width="2.6" height="2.6" fill="#3e2258"/>
<rect x="444.7" y="194.5" width="2.6" height="2.6" fill="#3e2258"/>
<rect x="461.1" y="185.3" width="2.6" height="2.6" fill="#3e2258"/>
<rect x="477.5" y="180.8" width="2.6" height="2.6" fill="#3e2258"/>
<rect x="493.9" y="180.8" width="2.6" height="2.6" fill="#3e2258"/>
<polyline points="505.5,181.2 507.5,181.2 507.5,212.3 505.5,212.3" fill="none" stroke="#1a1a1a" stroke-width="1.1"/>
<text x="511.2" y="199.80" font-size="5.4" text-anchor="middle" fill="#1a1a1a" stroke="#1a1a1a" stroke-width="0.1">*</text>
<text x="369" y="236.6" font-size="8.5" text-anchor="start" font-weight="bold" fill="#222" textLength="58.8" lengthAdjust="spacingAndGlyphs" >Weeks post-transplant</text>
<text x="7.7" y="15.7" font-size="12" text-anchor="start" font-weight="bold" fill="#000" stroke="#000" stroke-width="0.3">A</text>
<text x="280.8" y="15.7" font-size="11.8" text-anchor="start" font-weight="bold" fill="#000" stroke="#000" stroke-width="0.3">C</text>
<text x="7.6" y="243.5" font-size="12.3" text-anchor="start" font-weight="bold" fill="#000" stroke="#000" stroke-width="0.3">B</text>
<line x1="43.2" y1="13.4" x2="51.0" y2="13.4" stroke="#b01a33" stroke-width="1.4"/>
<rect x="45.800000000000004" y="12.0" width="2.8" height="2.8" fill="#b01a33"/>
<text x="53.2" y="15.3" font-size="7" fill="#2a2a2a" stroke="#2a2a2a" stroke-width="0.12">WT</text>
<line x1="77.8" y1="13.4" x2="85.6" y2="13.4" stroke="#28477c" stroke-width="1.4"/>
<rect x="80.39999999999999" y="12.0" width="2.8" height="2.8" fill="#28477c"/>
<text x="87.6" y="15.3" font-size="7" fill="#2a2a2a" stroke="#2a2a2a" stroke-width="0.12">Tet2<tspan font-size="4.8" dy="-3" fill="#555" stroke="none">+/-</tspan><tspan dy="3"></tspan></text>
<line x1="118.8" y1="13.4" x2="126.6" y2="13.4" stroke="#68ad44" stroke-width="1.4"/>
<rect x="121.39999999999999" y="12.0" width="2.8" height="2.8" fill="#68ad44"/>
<text x="128.8" y="15.3" font-size="7" fill="#2a2a2a" stroke="#2a2a2a" stroke-width="0.12">Nras<tspan font-size="4.8" dy="-3" fill="#555" stroke="none">G12D/+</tspan><tspan dy="3"></tspan></text>
<line x1="172.2" y1="13.4" x2="180.0" y2="13.4" stroke="#3e2258" stroke-width="1.4"/>
<rect x="174.79999999999998" y="12.0" width="2.8" height="2.8" fill="#3e2258"/>
<text x="181.5" y="15.3" font-size="7" fill="#2a2a2a" stroke="#2a2a2a" stroke-width="0.12">Nras<tspan font-size="4.8" dy="-3" fill="#555" stroke="none">G12D/+</tspan><tspan dy="3"></tspan>;Tet2<tspan font-size="4.8" dy="-3" fill="#555" stroke="none">+/-</tspan><tspan dy="3"></tspan></text>
<line x1="304.5" y1="13.4" x2="312.3" y2="13.4" stroke="#b01a33" stroke-width="1.4"/>
<rect x="307.1" y="12.0" width="2.8" height="2.8" fill="#b01a33"/>
<text x="314.5" y="15.3" font-size="7" fill="#2a2a2a" stroke="#2a2a2a" stroke-width="0.12">WT</text>
<line x1="339.8" y1="13.4" x2="347.6" y2="13.4" stroke="#28477c" stroke-width="1.4"/>
<rect x="342.40000000000003" y="12.0" width="2.8" height="2.8" fill="#28477c"/>
<text x="349.6" y="15.3" font-size="7" fill="#2a2a2a" stroke="#2a2a2a" stroke-width="0.12">Tet2<tspan font-size="4.8" dy="-3" fill="#555" stroke="none">+/-</tspan><tspan dy="3"></tspan></text>
<line x1="380.1" y1="13.4" x2="387.90000000000003" y2="13.4" stroke="#68ad44" stroke-width="1.4"/>
<rect x="382.70000000000005" y="12.0" width="2.8" height="2.8" fill="#68ad44"/>
<text x="390.1" y="15.3" font-size="7" fill="#2a2a2a" stroke="#2a2a2a" stroke-width="0.12">Nras<tspan font-size="4.8" dy="-3" fill="#555" stroke="none">G12D/+</tspan><tspan dy="3"></tspan></text>
<line x1="433.2" y1="13.4" x2="441.0" y2="13.4" stroke="#3e2258" stroke-width="1.4"/>
<rect x="435.8" y="12.0" width="2.8" height="2.8" fill="#3e2258"/>
<text x="442.5" y="15.3" font-size="7" fill="#2a2a2a" stroke="#2a2a2a" stroke-width="0.12">Nras<tspan font-size="4.8" dy="-3" fill="#555" stroke="none">G12D/+</tspan><tspan dy="3"></tspan>;Tet2<tspan font-size="4.8" dy="-3" fill="#555" stroke="none">+/-</tspan><tspan dy="3"></tspan></text>
<line x1="18" y1="249.0" x2="268.5" y2="249.0" stroke="#111" stroke-width="1.4"/>
<line x1="18" y1="275.2" x2="268.5" y2="275.2" stroke="#111" stroke-width="1.4"/>
<line x1="18" y1="318.9" x2="268.5" y2="318.9" stroke="#111" stroke-width="1.4"/>
<text x="18.8" y="259.4" font-size="6.5" text-anchor="start" font-weight="normal" fill="#222" >Donor</text>
<text x="89.0" y="259.4" font-size="6.5" text-anchor="start" font-weight="normal" fill="#222" >Number of</text>
<text x="89.0" y="267.9" font-size="6.5" text-anchor="start" font-weight="normal" fill="#222" >donor MPPs</text>
<text x="145.5" y="259.4" font-size="6.5" text-anchor="start" font-weight="normal" fill="#222" >Number of</text>
<text x="145.5" y="267.9" font-size="6.5" text-anchor="start" font-weight="normal" fill="#222" >protecting cells</text>
<text x="212" y="259.4" font-size="6.5" text-anchor="start" font-weight="normal" fill="#222" >Engraftment</text>
<text x="221.0" y="272" font-size="6.5" text-anchor="middle" font-weight="normal" fill="#222" >A</text>
<text x="236.6" y="272" font-size="6.5" text-anchor="middle" font-weight="normal" fill="#222" >B</text>
<text x="18.8" y="285.8" font-size="6.5" text-anchor="start" font-weight="normal" fill="#222" >WT</text>
<text x="106" y="285.8" font-size="6.5" text-anchor="middle" font-weight="normal" fill="#222" >15</text>
<text x="166.3" y="285.8" font-size="6.5" text-anchor="middle" font-weight="normal" fill="#222" >300,000</text>
<text x="228.7" y="285.8" font-size="6.5" text-anchor="middle" font-weight="normal" fill="#222" >0/3; 0/5</text>
<text x="18.8" y="295.7" font-size="6.5" text-anchor="start" font-weight="normal" fill="#222" >Tet2<tspan font-size="4.8" dy="-3" fill="#555" stroke="none">+/-</tspan><tspan dy="3"></tspan></text>
<text x="106" y="295.7" font-size="6.5" text-anchor="middle" font-weight="normal" fill="#222" >15</text>
<text x="166.3" y="295.7" font-size="6.5" text-anchor="middle" font-weight="normal" fill="#222" >300,000</text>
<text x="228.7" y="295.7" font-size="6.5" text-anchor="middle" font-weight="normal" fill="#222" >2/4; 1/4</text>
<text x="18.8" y="305.9" font-size="6.5" text-anchor="start" font-weight="normal" fill="#222" >Nras<tspan font-size="4.8" dy="-3" fill="#555" stroke="none">G12D/+</tspan><tspan dy="3"></tspan></text>
<text x="106" y="305.9" font-size="6.5" text-anchor="middle" font-weight="normal" fill="#222" >15</text>
<text x="166.3" y="305.9" font-size="6.5" text-anchor="middle" font-weight="normal" fill="#222" >300,000</text>
<text x="228.7" y="305.9" font-size="6.5" text-anchor="middle" font-weight="normal" fill="#222" >0/4; 1/3</text>
<text x="18.8" y="315.7" font-size="6.5" text-anchor="start" font-weight="normal" fill="#222" >Nras<tspan font-size="4.8" dy="-3" fill="#555" stroke="none">G12D/+</tspan><tspan dy="3"></tspan>;Tet2<tspan font-size="4.8" dy="-3" fill="#555" stroke="none">+/-</tspan><tspan dy="3"></tspan></text>
<text x="106" y="315.7" font-size="6.5" text-anchor="middle" font-weight="normal" fill="#222" >15</text>
<text x="166.3" y="315.7" font-size="6.5" text-anchor="middle" font-weight="normal" fill="#222" >300,000</text>
<text x="228.7" y="315.7" font-size="6.5" text-anchor="middle" font-weight="normal" fill="#222" >4/5; 3/5</text>
<polyline points="253.0,282.3 255.5,282.3 255.5,314.2 253.0,314.2" fill="none" stroke="#1a1a1a" stroke-width="1.1"/>
<text x="258.5" y="301.90" font-size="5.4" text-anchor="middle" fill="#1a1a1a" stroke="#1a1a1a" stroke-width="0.1">*</text>
<rect x="0" y="0" width="520" height="1.2" fill="#000"/>
<rect x="0" y="0" width="1" height="326" fill="#000"/>
<rect x="518.4" y="0" width="1.6" height="326" fill="#000"/>
<rect x="0" y="324.4" width="520" height="1.6" fill="#000"/>
</svg>
</body></html>
